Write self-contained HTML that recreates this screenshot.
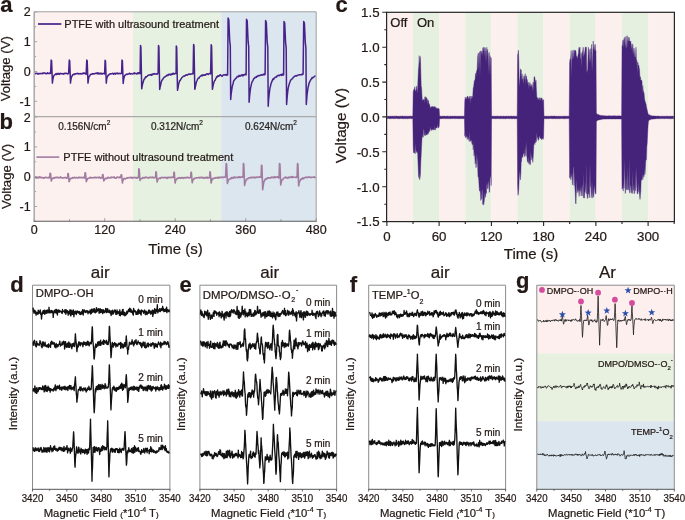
<!DOCTYPE html>
<html><head><meta charset="utf-8"><style>
html,body{margin:0;padding:0;background:#fff;width:685px;height:520px;overflow:hidden}
svg{display:block;will-change:transform}
text{font-family:"Liberation Sans",sans-serif;stroke:#231815;stroke-width:0.22px}
</style></head><body>
<svg width="685" height="520" viewBox="0 0 685 520">
<rect x="34.2" y="11.8" width="98.8" height="209.4" fill="#fcf1ee"/>
<rect x="133.0" y="11.8" width="88.2" height="209.4" fill="#e6f1e1"/>
<rect x="221.2" y="11.8" width="95" height="209.4" fill="#dce6ee"/>
<path d="M34.2,11.9h3M34.2,26.8h2M34.2,41.7h3M34.2,56.6h2M34.2,71.5h3M34.2,86.4h2M34.2,101.3h3M34.2,116.2h2M34.2,117.1h3M34.2,132h2M34.2,146.9h3M34.2,161.8h2M34.2,176.7h3M34.2,191.6h2M34.2,206.5h3M34.2,221.4h2M34.2,221.2v-3M69.5,221.2v-2M104.7,221.2v-3M139.9,221.2v-2M175.2,221.2v-3M210.4,221.2v-2M245.7,221.2v-3M280.9,221.2v-2M316.2,221.2v-3" stroke="#8f8f8f" stroke-width="0.8" fill="none"/>
<path d="M34.6,73.6 35.1,73.7 35.6,73.5 36.1,73.3 36.6,73.4 37.1,73.3 37.6,73.6 38.1,74.1 38.6,73.4 39.1,73.4 39.6,73.8 40.1,73.7 40.6,73.6 41.1,73.3 41.6,73.6 42.1,73.8 42.6,73.1 43.1,73.4 43.6,72.9 44.1,73.1 44.6,73 45.1,73.5 45.6,73.2 46.1,73.7 46.6,73.7 47.1,73.5 47.6,72.7 48.1,73.4 48.6,73.6 49.1,73.6 49.6,73.1 50.1,73.4 50.6,73.3 51.2,60.1 51.6,60.8 52.4,83.1 52.6,81 53.1,78.2 53.6,76.1 54.1,75.4 54.6,75 55.1,74.6 55.6,73.9 56.1,74.2 56.6,74.5 57.1,73.4 57.6,74.1 58.1,73.8 58.6,73.5 59.1,74.4 59.6,73.9 60.1,73.2 60.6,73.7 61.1,73.8 61.6,73.6 62.1,73.9 62.6,73.6 63.1,73.8 63.6,74.1 64.1,73.4 64.6,73.7 65.1,73.4 65.6,73.6 66.1,73.2 66.6,73.4 67.1,73.5 67.6,73.9 68.1,74 68.6,73.1 69.3,60.1 69.7,60.8 70.5,83.1 70.6,81.8 71.1,78.3 71.6,77 72.1,75.9 72.6,74.9 73.1,74.5 73.6,74.3 74.1,74.7 74.6,73.9 75.1,73.8 75.6,74 76.1,73.8 76.6,73.7 77.1,73.3 77.6,73.7 78.1,73.5 78.6,74.1 79.1,73.9 79.6,73.6 80.1,73.9 80.6,73.5 81.1,74 81.6,73.6 82.1,73.8 82.6,73.2 83.1,73.7 83.6,73 84.1,72.9 84.6,73.5 85.1,73.3 85.6,73.7 86.1,74.4 86.8,60.1 87.2,60.8 88,83.1 88.1,82.1 88.6,78.3 89.1,76.5 89.6,75.9 90.1,75.2 90.6,74.3 91.1,74.4 91.6,74.2 92.1,73.7 92.6,74 93.1,73.6 93.6,74.1 94.1,73.8 94.6,73.7 95.1,73.5 95.6,73.6 96.1,73 96.6,73.2 97.1,73.8 97.6,72.9 98.1,73.9 98.6,73 99.1,73.9 99.6,73.3 100.1,73.9 100.6,73.7 101.1,73.1 101.6,74 102.1,74.1 102.6,73.6 103.1,73.5 103.6,73.5 104.1,73.3 104.6,74 105.1,60.3 105.5,61 106.3,83.1 106.6,79.9 107.1,77 107.6,76.6 108.1,75.3 108.6,75.2 109.1,74.5 109.6,74.1 110.1,74 110.6,73.8 111.1,73.9 111.6,73.7 112.1,73.7 112.6,73.3 113.1,73.4 113.6,74.3 114.1,73.4 114.6,73.3 115.1,73.8 115.6,74.1 116.1,73.1 116.6,73.5 117.1,73.4 117.6,73 118.1,73.9 118.6,73.6 119.1,73.6 119.6,73.3 120.1,73.8 120.6,73.4 121.1,73.6 121.6,73.2 122,60.1 122.4,60.8 123.2,83.5 123.6,79.8 124.1,77.3 124.6,75.9 125.1,75.1 125.6,75.1 126.1,74.4 126.6,74.2 127.1,74.1 127.6,74.4 128.1,74.1 128.6,74 129.1,73.6 129.6,73.2 130.1,74 130.6,74 131.1,73.6 131.6,73.8 132.1,73.9 132.6,73.9 133.1,73.6 133.6,73.2 134.1,73.8 134.6,72.9 135.1,73.6 135.6,73.5 136.1,73.6 136.6,74 137.1,73.8 137.6,72.9 138.1,72.7 138.6,73.6 139.1,72.9 139.6,73.3 140.1,73.6 140.5,45.5 140.9,46.9 141.7,88.8 142.1,86.4 142.6,84 143.1,82.3 143.6,80.6 144.1,79.2 144.6,78.8 145.1,77.8 145.6,76.9 146.1,77.2 146.6,76.6 147.1,76.4 147.6,75.6 148.1,75.5 148.6,75.1 149.1,74.9 149.6,75.1 150.1,74.6 150.6,74.9 151.1,74.7 151.6,75.2 152.1,73.9 152.6,74.6 153.1,74.2 153.6,74.1 154.1,73.6 154.6,73.8 155.1,74.2 155.6,73.9 156.1,73.9 156.6,73.7 157.1,74.2 157.6,73.7 158.1,72.9 158.5,45.5 158.9,46.9 159.7,89.5 160.1,87.1 160.6,85.3 161.1,82.9 161.6,81 162.1,79.9 162.6,79.7 163.1,78.5 163.6,77.9 164.1,77.3 164.6,76.9 165.1,76.8 165.6,76.4 166.1,76 166.6,75.3 167.1,75.6 167.6,75 168.1,75.4 168.6,74.4 169.1,74.7 169.6,74.6 170.1,74 170.6,75 171.1,74.8 171.6,74 172.1,74.4 172.6,74.2 173.1,73.1 173.6,74 174.1,73.9 174.6,73.9 175.1,73.4 175.6,73.6 176.1,73.6 176.3,46 176.7,47.4 177.5,90.3 177.6,89.9 178.1,87.4 178.6,84.4 179.1,82.6 179.6,80.7 180.1,80.7 180.6,79.6 181.1,78.8 181.6,78.1 182.1,77.4 182.6,77 183.1,76.4 183.6,76.1 184.1,75.9 184.6,76.2 185.1,75.6 185.6,75.2 186.1,74.9 186.6,74.7 187.1,75.3 187.6,74.8 188.1,74.5 188.6,74.3 189.1,73.9 189.6,74.2 190.1,74.4 190.6,73.9 191.1,73.9 191.6,73.9 192.1,73.9 192.6,73.3 193.1,73.7 193.6,44.4 194,45.8 194.8,89.3 195.1,88 195.6,85.7 196.1,83.1 196.6,81.4 197.1,80.5 197.6,79.4 198.1,78.3 198.6,78.1 199.1,78.1 199.6,76.9 200.1,76.5 200.6,75.9 201.1,76 201.6,75.2 202.1,75.1 202.6,75.7 203.1,74.8 203.6,75.3 204.1,75.3 204.6,74.7 205.1,74.7 205.6,75.1 206.1,74.2 206.6,74 207.1,73.7 207.6,74.1 208.1,74.5 208.6,74.3 209.1,73.6 209.6,73.5 210.1,73.6 210.6,73.9 211.2,44.7 211.6,46.1 212.4,89.3 212.6,88.2 213.1,85.6 213.6,83.6 214.1,81.9 214.6,80.8 215.1,80.2 215.6,78.9 216.1,78.1 216.6,76.9 217.1,77.2 217.6,75.9 218.1,75.8 218.6,76.3 219.1,76 219.6,75.4 220.1,74.7 220.6,75 221.1,75.6 221.6,75.9 222.1,76.3 222.6,75.5 223.1,75.1 223.6,74.8 224.1,75.1 224.6,75 225.1,74.6 225.6,75 226.1,74.5 226.6,75.2 227.1,75.1 227.6,75.1 228.1,18.1 228.8,19.8 229.7,40.5 230.3,46.2 230.7,99.4 231.1,94.5 231.6,90.9 232.1,87.3 232.6,85 233.1,83.5 233.6,81.1 234.1,80.4 234.6,79.8 235.1,79.2 235.6,78.3 236.1,78.3 236.6,77.6 237.1,76.7 237.6,76.5 238.1,76.8 238.6,76.4 239.1,75.4 239.6,76.3 240.1,75.9 240.6,76 241.1,75.2 241.6,75.1 242.1,74.7 242.6,75.9 243.1,74.9 243.6,75.4 244.1,74.6 244.6,74.8 245.1,74.1 245.6,74.5 246.1,74.9 246.5,19.2 247.2,20.8 248.1,41.2 248.7,46.7 249.1,102.3 249.6,96.1 250.1,91.4 250.6,87.9 251.1,85.6 251.6,83.4 252.1,81.8 252.6,81.1 253.1,80.4 253.6,78.8 254.1,78.7 254.6,77.9 255.1,77.4 255.6,77.6 256.1,76.8 256.6,77.2 257.1,76.1 257.6,76.3 258.1,75.9 258.6,75.5 259.1,75.8 259.6,75.4 260.1,75.5 260.6,75.2 261.1,74.7 261.6,75 262.1,74.9 262.6,75.2 263.1,74.4 263.6,74.7 264.1,74 264.6,74.8 265.1,74.2 265.6,20.6 266.3,22.2 267.2,42 267.8,47.4 268.2,106.2 268.6,100 269.1,95 269.6,90.5 270.1,87.5 270.6,85.6 271.1,83.4 271.6,82.4 272.1,80.8 272.6,79.8 273.1,78.8 273.6,79.5 274.1,78.2 274.6,77.9 275.1,77.4 275.6,77.1 276.1,76.8 276.6,77.1 277.1,75.9 277.6,75.5 278.1,75.5 278.6,75.2 279.1,75.7 279.6,75.6 280.1,74.9 280.6,74.6 281.1,74.9 281.6,75.4 282.1,73.9 282.6,75 283.1,74.3 283.6,75 284,21.5 284.7,23.1 285.6,42.6 286.2,47.9 286.6,104.5 287.1,97.7 287.6,92.6 288.1,88.6 288.6,86.4 289.1,84.5 289.6,82.9 290.1,81.6 290.6,80.2 291.1,79.8 291.6,79.1 292.1,78.9 292.6,78.6 293.1,77.5 293.6,76.9 294.1,76.8 294.6,76.3 295.1,76 295.6,76.1 296.1,75.5 296.6,75.9 297.1,75.5 297.6,75.5 298.1,75.2 298.6,74.9 299.1,74.7 299.6,74.9 300.1,74.7 300.6,74.9 301.1,74.7 301.6,74.2 302.1,74.7 302.6,74.1 303.1,74.3 303.7,21.5 304.4,23.1 305.3,42.6 305.9,47.9 306.3,104.5 306.6,100.2 307.1,94.3 307.6,90.5 308.1,87.3 308.6,85.3 309.1,83 309.6,82.2 310.1,81 310.6,80 311.1,79.2 311.6,78.9 312.1,77.6 312.6,77.9 313.1,77.4 313.6,77.1 314.1,76.8 314.6,76.2 315.1,76.1 315.6,76.2" fill="none" stroke="#47228a" stroke-width="1.5" stroke-linejoin="round" />
<path d="M34.6,177.7 35.1,177.7 35.6,177.1 36.1,177.8 36.6,178 37.1,177.9 37.6,177.7 38.1,177.1 38.6,177.9 39.1,177.6 39.6,176.8 40.1,177.7 40.6,177.2 41.1,177.2 41.6,177.4 42.1,178 42.6,177.5 43.1,177.7 43.6,178.1 44.1,178.1 44.6,177.6 45.1,177.5 45.6,177.2 46.1,177.4 46.6,177.7 47.1,177.7 47.6,177.6 48.1,177.9 48.6,177.4 49.1,177.6 49.6,177.8 50.1,173.2 50.5,173.4 51.3,181 51.6,180 52.1,179.2 52.6,178.3 53.1,177.9 53.6,178.3 54.1,178 54.6,178 55.1,177.3 55.6,177.7 56.1,177.6 56.6,177.5 57.1,177 57.6,177.6 58.1,177.9 58.6,177.8 59.1,177.5 59.6,177.6 60.1,177.9 60.6,176.8 61.1,177.6 61.6,177.8 62.1,177.8 62.6,178.1 63.1,177.9 63.6,177.7 64.1,177.7 64.6,177.8 65.1,177.4 65.6,177.6 66.1,177.9 66.6,178.2 67.1,177.6 67.6,177.6 67.9,173.5 68.3,173.7 69.1,181.6 69.6,180.4 70.1,178.8 70.6,178.6 71.1,178.3 71.6,178.4 72.1,178.4 72.6,177.5 73.1,177.6 73.6,177.9 74.1,177.6 74.6,177.3 75.1,178 75.6,177.8 76.1,177.8 76.6,177.5 77.1,177.9 77.6,177.6 78.1,178 78.6,177.3 79.1,177.4 79.6,177.7 80.1,177.4 80.6,177.8 81.1,177.7 81.6,177.3 82.1,177.6 82.6,177.5 83.1,177.9 83.6,177.4 84.1,177.5 84.6,178 85.1,172.8 85.5,173 86.3,181.6 86.6,180.6 87.1,179.9 87.6,178.8 88.1,178.2 88.6,178.3 89.1,178.2 89.6,177.7 90.1,177.4 90.6,177.4 91.1,178 91.6,177.5 92.1,177.7 92.6,177.8 93.1,177.9 93.6,177.6 94.1,177.8 94.6,177.4 95.1,177.5 95.6,177.3 96.1,178 96.6,177.6 97.1,177.4 97.6,177.5 98.1,177.5 98.6,177.8 99.1,177.1 99.6,177.3 100.1,177.5 100.6,178.4 101.1,177.9 101.6,177.6 102.1,177.8 102.6,174.5 103,174.7 103.8,181 104.1,180.4 104.6,179.3 105.1,178.8 105.6,178.2 106.1,178.7 106.6,178.5 107.1,178.1 107.6,178.1 108.1,177.2 108.6,177.9 109.1,177.7 109.6,177.8 110.1,177.9 110.6,177.6 111.1,177.1 111.6,177.7 112.1,177.4 112.6,177.5 113.1,177.4 113.6,177.5 114.1,176.9 114.6,178 115.1,177.7 115.6,177.9 116.1,178.2 116.6,177.6 117.1,177.1 117.6,177.3 118.1,177.2 118.6,177.5 119.1,177.6 119.6,177 120.1,177.7 120.6,177.1 121.2,174.7 121.6,174.8 122.4,183 122.6,181.9 123.1,180.1 123.6,179.2 124.1,178.4 124.6,178.5 125.1,178.9 125.6,178.7 126.1,178.4 126.6,178.1 127.1,177.7 127.6,178.2 128.1,177.7 128.6,177.7 129.1,177.6 129.6,177.7 130.1,177.5 130.6,177.6 131.1,177.3 131.6,177.5 132.1,178.3 132.6,177.6 133.1,177.5 133.6,177.8 134.1,177.8 134.6,177.3 135.1,177.5 135.6,177.9 136.1,177.7 136.6,177.6 137.1,178.1 137.6,177.4 138.1,177.6 138.6,177.4 138.8,168.9 139.2,169.3 140,180.5 140.1,180 140.6,179 141.1,178.8 141.6,178.5 142.1,178.5 142.6,177.5 143.1,178.1 143.6,177.8 144.1,177.6 144.6,177.9 145.1,177.4 145.6,177.1 146.1,177.6 146.6,177.2 147.1,177.4 147.6,177.7 148.1,177.7 148.6,178.1 149.1,177.6 149.6,177.2 150.1,177.4 150.6,177.3 151.1,177.2 151.6,177.7 152.1,177.4 152.6,177 153.1,177.8 153.6,177.6 154.1,177.7 154.6,177.6 155.1,177.8 155.6,177.6 155.9,171.8 156.3,172.1 157.1,182 157.6,180.3 158.1,178.9 158.6,178.7 159.1,178.4 159.6,178.3 160.1,177.7 160.6,178.5 161.1,177.9 161.6,177.5 162.1,177.3 162.6,177.7 163.1,177.7 163.6,177.5 164.1,177.7 164.6,177.5 165.1,177.8 165.6,177.4 166.1,177.6 166.6,177.9 167.1,178.4 167.6,177.3 168.1,177.5 168.6,177.4 169.1,177.8 169.6,177.3 170.1,177.5 170.6,177.6 171.1,177.3 171.6,177.3 172.1,177.5 172.6,177 173.1,177.2 173.6,177.5 173.9,172.2 174.3,172.5 175.1,183 175.6,180.7 176.1,179.9 176.6,179.2 177.1,178.6 177.6,178.1 178.1,178.4 178.6,177.9 179.1,177.6 179.6,177.6 180.1,178.3 180.6,177.8 181.1,178.1 181.6,177.6 182.1,178 182.6,177.5 183.1,177.6 183.6,178.4 184.1,177.9 184.6,177.5 185.1,177.6 185.6,177.7 186.1,178 186.6,177.5 187.1,177.1 187.6,177.5 188.1,177.6 188.6,177.6 189.1,178 189.6,177.7 190.1,177.8 190.6,177.3 191,172.2 191.4,172.5 192.2,182.7 192.6,181 193.1,179.8 193.6,179.6 194.1,178.4 194.6,178.4 195.1,178.3 195.6,178.3 196.1,177.8 196.6,178 197.1,177.7 197.6,177.8 198.1,177.7 198.6,177.4 199.1,177.7 199.6,177.9 200.1,177.4 200.6,177.6 201.1,177.8 201.6,177.3 202.1,177.7 202.6,177.3 203.1,178 203.6,178.3 204.1,178.2 204.6,177.5 205.1,177.8 205.6,177.6 206.1,177.6 206.6,178.1 207.1,177.2 207.6,177.9 208.1,177.6 208.6,178 209.1,177.7 209.6,177.4 209.9,171.8 210.3,172.1 211.1,183 211.6,181 212.1,179.5 212.6,178.4 213.1,178.9 213.6,178.6 214.1,178.2 214.6,178.1 215.1,178.3 215.6,177.7 216.1,177.6 216.6,177.7 217.1,178.1 217.6,177.3 218.1,178 218.6,177.5 219.1,177.3 219.6,178 220.1,177.6 220.6,177.2 221.1,177.1 221.6,177.5 222.1,177.6 222.6,177.1 223.1,177.3 223.6,177.4 224.1,177 224.6,177.3 225.1,177.2 225.6,177 226.2,163.5 226.6,164.2 227.4,183.5 227.6,182.4 228.1,180.7 228.6,180.2 229.1,179.2 229.6,179 230.1,178.8 230.6,178.3 231.1,178.7 231.6,177.6 232.1,178 232.6,177.6 233.1,178.1 233.6,178 234.1,176.9 234.6,177.1 235.1,177.6 235.6,177.6 236.1,177.5 236.6,177.3 237.1,177.4 237.6,177.5 238.1,177.2 238.6,177.6 239.1,176.6 239.6,177.4 240.1,176.9 240.6,177.5 241.1,177.2 241.6,177 242.1,177.3 242.6,176.9 243.1,176.9 243.4,163.5 243.8,164.2 244.6,185.4 245.1,183 245.6,181 246.1,180.4 246.6,179.4 247.1,178.9 247.6,178.7 248.1,178.6 248.6,178 249.1,177.9 249.6,177.8 250.1,177.7 250.6,177.4 251.1,177.9 251.6,177.4 252.1,177.6 252.6,177.2 253.1,177.5 253.6,177.5 254.1,177.2 254.6,177.9 255.1,177.4 255.6,177.8 256.1,177.5 256.6,177.1 257.1,177.1 257.6,177.4 258.1,177.2 258.6,177.2 259.1,177.1 259.6,176.7 260.1,177.1 260.6,176.5 261.1,177.3 261.5,165.2 261.9,165.8 262.7,189.7 263.1,186.3 263.6,183.1 264.1,181.3 264.6,180.4 265.1,179.3 265.6,179.1 266.1,179.4 266.6,178.3 267.1,178.6 267.6,177.8 268.1,178.1 268.6,177.8 269.1,177.8 269.6,177.9 270.1,178.1 270.6,177.6 271.1,177.5 271.6,177.1 272.1,177.6 272.6,177.3 273.1,177.6 273.6,177.3 274.1,177.8 274.6,176.7 275.1,177.2 275.6,177.5 276.1,177.1 276.6,177 277.1,177.2 277.6,176.8 278.1,177.3 278.6,178 279.1,177.6 279.5,163.5 279.9,164.2 280.7,184.9 281.1,183.1 281.6,180.8 282.1,179.8 282.6,179.6 283.1,179.1 283.6,178.4 284.1,178 284.6,177.6 285.1,177.7 285.6,177.1 286.1,177.9 286.6,177.4 287.1,177.7 287.6,178.1 288.1,177.8 288.6,177.1 289.1,177.6 289.6,177.7 290.1,177.1 290.6,177 291.1,177.3 291.6,176.8 292.1,177.7 292.6,176.5 293.1,176.9 293.6,177.2 294.1,177.2 294.6,177.3 295.1,177.3 295.6,177.2 296.1,177.6 296.6,176.6 297.1,177.2 297.5,163.5 297.9,164.2 298.7,186 299.1,183.3 299.6,181.5 300.1,180.7 300.6,179.8 301.1,178.9 301.6,179.3 302.1,179.1 302.6,177.8 303.1,178.1 303.6,178.7 304.1,178 304.6,177.8 305.1,177.5 305.6,177.4 306.1,177.4 306.6,177.3 307.1,177.6 307.6,177.2 308.1,177.2 308.6,177 309.1,177.3 309.6,177 310.1,177.2 310.6,177.6 311.1,177.4 311.6,177.4 312.1,177.3 312.6,177.2 313.1,177.2 313.6,177.1 314.1,177.4 314.6,176.9 315.1,177.6 315.6,177.2" fill="none" stroke="#a27ba0" stroke-width="1.6" stroke-linejoin="round" />
<path d="M34.2,11.8H316.2V221.2" stroke="#a0a0a0" stroke-width="1" fill="none"/>
<path d="M34.2,11.8V221.2" stroke="#a8a8a8" stroke-width="1.5" fill="none"/>
<path d="M34.2,116.7H316.2" stroke="#aaaaaa" stroke-width="1.2" fill="none"/>
<path d="M33.7,221.2H316.7" stroke="#5a5a5a" stroke-width="1.1" fill="none"/>
<path d="M38,24H61.3" stroke="#47228a" stroke-width="1.7"/>
<text x="64.3" y="27.6" font-size="11" text-anchor="start" font-weight="normal" fill="#231815" >PTFE with ultrasound treatment</text>
<path d="M36.4,157.1H59.3" stroke="#a27ba0" stroke-width="1.6"/>
<text x="63.3" y="160.8" font-size="11" text-anchor="start" font-weight="normal" fill="#231815" >PTFE without ultrasound treatment</text>
<text x="84.3" y="129.9" font-size="10" text-anchor="middle" fill="#2a2a2a">0.156N/cm<tspan font-size="6.5" dy="-4.5">2</tspan></text>
<text x="177" y="129.9" font-size="10" text-anchor="middle" fill="#2a2a2a">0.312N/cm<tspan font-size="6.5" dy="-4.5">2</tspan></text>
<text x="271" y="129.9" font-size="10" text-anchor="middle" fill="#2a2a2a">0.624N/cm<tspan font-size="6.5" dy="-4.5">2</tspan></text>
<text x="30.6" y="16.4" font-size="12.5" text-anchor="end" font-weight="normal" fill="#231815" >2</text>
<text x="30.6" y="46.2" font-size="12.5" text-anchor="end" font-weight="normal" fill="#231815" >1</text>
<text x="30.6" y="76" font-size="12.5" text-anchor="end" font-weight="normal" fill="#231815" >0</text>
<text x="30.6" y="105.8" font-size="12.5" text-anchor="end" font-weight="normal" fill="#231815" >-1</text>
<text x="30.6" y="121.6" font-size="12.5" text-anchor="end" font-weight="normal" fill="#231815" >2</text>
<text x="30.6" y="151.4" font-size="12.5" text-anchor="end" font-weight="normal" fill="#231815" >1</text>
<text x="30.6" y="181.2" font-size="12.5" text-anchor="end" font-weight="normal" fill="#231815" >0</text>
<text x="30.6" y="211" font-size="12.5" text-anchor="end" font-weight="normal" fill="#231815" >-1</text>
<text x="34.2" y="234.4" font-size="12.5" text-anchor="middle" font-weight="normal" fill="#231815" >0</text>
<text x="104.7" y="234.4" font-size="12.5" text-anchor="middle" font-weight="normal" fill="#231815" >120</text>
<text x="175.2" y="234.4" font-size="12.5" text-anchor="middle" font-weight="normal" fill="#231815" >240</text>
<text x="245.7" y="234.4" font-size="12.5" text-anchor="middle" font-weight="normal" fill="#231815" >360</text>
<text x="316.2" y="234.4" font-size="12.5" text-anchor="middle" font-weight="normal" fill="#231815" >480</text>
<text x="175.5" y="254.2" font-size="15" text-anchor="middle" font-weight="normal" fill="#231815" >Time (s)</text>
<text x="10.5" y="68.7" font-size="13.2" text-anchor="middle" font-weight="normal" fill="#231815" transform="rotate(-90 10.5 68.7)">Voltage (V)</text>
<text x="10.7" y="176.5" font-size="13.2" text-anchor="middle" font-weight="normal" fill="#231815" transform="rotate(-90 10.7 176.5)">Voltage (V)</text>
<text x="0.2" y="12.1" font-size="22" text-anchor="start" font-weight="bold" fill="#231815" >a</text>
<text x="-0.6" y="129.3" font-size="22" text-anchor="start" font-weight="bold" fill="#231815" >b</text>
<rect x="386.9" y="12.3" width="26.1" height="209.3" fill="#fcf0ee"/>
<rect x="413" y="12.3" width="26.1" height="209.3" fill="#e6f0e0"/>
<rect x="439.1" y="12.3" width="26.1" height="209.3" fill="#fcf0ee"/>
<rect x="465.3" y="12.3" width="26.1" height="209.3" fill="#e6f0e0"/>
<rect x="491.4" y="12.3" width="26.1" height="209.3" fill="#fcf0ee"/>
<rect x="517.5" y="12.3" width="26.1" height="209.3" fill="#e6f0e0"/>
<rect x="543.6" y="12.3" width="26.1" height="209.3" fill="#fcf0ee"/>
<rect x="569.7" y="12.3" width="26.1" height="209.3" fill="#e6f0e0"/>
<rect x="595.9" y="12.3" width="26.1" height="209.3" fill="#fcf0ee"/>
<rect x="622" y="12.3" width="26.1" height="209.3" fill="#e6f0e0"/>
<rect x="648.1" y="12.3" width="26.1" height="209.3" fill="#fcf0ee"/>
<path d="M387.2,116.2 387.6,116.3 388,116.3 388.4,116.3 388.8,116.2 389.2,116.3 389.6,116.3 390,116.3 390.4,116.3 390.8,116.1 391.2,116.2 391.6,116.3 392,116.1 392.4,116.2 392.8,116.1 393.2,116.2 393.6,116.2 394,116.2 394.4,116.2 394.8,116.2 395.2,116.2 395.6,116.2 396,116.2 396.4,116.1 396.8,116.1 397.2,116.3 397.6,116.3 398,116.1 398.4,116.2 398.8,116.2 399.2,116.3 399.6,116.3 400,116.2 400.4,116.1 400.8,116.2 401.2,116.2 401.6,116.2 402,116.3 402.4,116.1 402.8,116.1 403.2,116.3 403.6,116.2 404,116.2 404.4,116.3 404.8,116.3 405.2,116.1 405.6,116.2 406,116.2 406.4,116.2 406.8,116.3 407.2,116.2 407.6,116.3 408,116.3 408.4,116.3 408.8,116.2 409.2,116.1 409.6,116.2 410,116.2 410.4,116.1 410.8,116.2 411.2,116.2 411.6,116.2 412,116.3 412.4,116.1 412.8,116.2 413.2,91.8 413.6,90.4 414,89 414.4,89.2 414.8,86.8 415.2,91.6 415.6,90.6 416,90.8 416.4,86.1 416.8,88.6 417.2,93.6 417.6,88.4 418,79 418.4,70 418.8,65.7 419.2,55.6 419.6,63.1 420,63.3 420.4,56.5 420.8,70.8 421.2,85.8 421.6,88.1 422,96.1 422.4,100.3 422.8,100.6 423.2,100.1 423.6,99.8 424,99.1 424.4,103.3 424.8,97 425.2,96.5 425.6,99.7 426,97.3 426.4,97.7 426.8,98.1 427.2,105.1 427.6,99.3 428,101.9 428.4,100.2 428.8,103.1 429.2,103.7 429.6,104.4 430,106.3 430.4,107.7 430.8,107.5 431.2,107.3 431.6,106.4 432,107.2 432.4,106.7 432.8,106.2 433.2,107 433.6,106.7 434,107.6 434.4,106.7 434.8,106.5 435.2,106.7 435.6,107.2 436,108.4 436.4,108.6 436.8,107.7 437.2,108.7 437.6,108.8 438,108.4 438.4,108.9 438.8,108.3 439.2,109.2 439.6,116.3 440,116.2 440.4,116.1 440.8,116.2 441.2,116.2 441.6,116.2 442,116.3 442.4,116.3 442.8,116.1 443.2,116.1 443.6,116.3 444,116.2 444.4,116.1 444.8,116.1 445.2,116.3 445.6,116.2 446,116.2 446.4,116.2 446.8,116.3 447.2,116.1 447.6,116.1 448,116.2 448.4,116.2 448.8,116.3 449.2,116.2 449.6,116.3 450,116.3 450.4,116.1 450.8,116.2 451.2,116.3 451.6,116.3 452,116.1 452.4,116.2 452.8,116.1 453.2,116.2 453.6,116.3 454,116.1 454.4,116.2 454.8,116.1 455.2,116.2 455.6,116.2 456,116.1 456.4,116.3 456.8,116.3 457.2,116.3 457.6,116.3 458,116.2 458.4,116.1 458.8,116.3 459.2,116.3 459.6,116.3 460,116.2 460.4,116.2 460.8,116.2 461.2,116.3 461.6,116.2 462,116.3 462.4,116.2 462.8,116.1 463.2,116.3 463.6,116.3 464,116.3 464.4,116.3 464.8,100.8 465.2,97.1 465.6,99.1 466,99.1 466.4,99 466.8,97 467.2,97.2 467.6,96 468,96.6 468.4,97.7 468.8,99.4 469.2,98.6 469.6,97 470,96 470.4,103.8 470.8,97.2 471.2,96 471.6,99.2 472,98.3 472.4,96.8 472.8,95.6 473.2,87.6 473.6,87.3 474,83.2 474.4,80.5 474.8,80.6 475.2,78.3 475.6,73.3 476,77.1 476.4,71.4 476.8,71 477.2,68.6 477.6,57.5 478,54.2 478.4,53 478.8,70.4 479.2,59.1 479.6,51.7 480,76.7 480.4,52.4 480.8,50.8 481.2,52.5 481.6,54.4 482,50.9 482.4,56.4 482.8,48.4 483.2,47.4 483.6,52.3 484,47.2 484.4,50.3 484.8,56.4 485.2,47.6 485.6,61.5 486,50.7 486.4,62.9 486.8,47.3 487.2,52.4 487.6,49.5 488,56.8 488.4,74.9 488.8,53.8 489.2,52.4 489.6,74.9 490,55.6 490.4,77.1 490.8,57.4 491.2,57.9 491.6,116.2 492,116.1 492.4,116.3 492.8,116.1 493.2,116.2 493.6,116.2 494,116.3 494.4,116.3 494.8,116.1 495.2,116.2 495.6,116.2 496,116.3 496.4,116.2 496.8,116.2 497.2,116.1 497.6,116.1 498,116.3 498.4,116.3 498.8,116.3 499.2,116.3 499.6,116.2 500,116.3 500.4,116.1 500.8,116.3 501.2,116.3 501.6,116.2 502,116.3 502.4,116.2 502.8,116.3 503.2,116.2 503.6,116.1 504,116.2 504.4,116.3 504.8,116.3 505.2,116.3 505.6,116.3 506,116.2 506.4,116.2 506.8,116.1 507.2,116.2 507.6,116.3 508,116.2 508.4,116.1 508.8,116.2 509.2,116.2 509.6,116.3 510,116.3 510.4,116.2 510.8,116.1 511.2,116.2 511.6,116.1 512,116.3 512.4,116.2 512.8,116.3 513.2,116.2 513.6,116.2 514,116.1 514.4,116.2 514.8,116.2 515.2,116.3 515.6,116.3 516,116.2 516.4,116.2 516.8,116.2 517.2,116.2 517.6,54.7 518,53.5 518.4,50.1 518.8,60.6 519.2,86.7 519.6,82.8 520,77.1 520.4,68.8 520.8,71.6 521.2,69.8 521.6,81 522,73.7 522.4,79.7 522.8,78.9 523.2,84.3 523.6,78.8 524,75.7 524.4,80.1 524.8,76.7 525.2,73.7 525.6,84.9 526,76.8 526.4,75.8 526.8,79.2 527.2,79.6 527.6,82.3 528,83.7 528.4,89.4 528.8,82.1 529.2,86.6 529.6,85.8 530,82.6 530.4,86.5 530.8,85.9 531.2,84.4 531.6,85.4 532,87 532.4,91.1 532.8,84.8 533.2,82.2 533.6,92.1 534,77.3 534.4,76.6 534.8,77.4 535.2,80.4 535.6,83.5 536,80.2 536.4,89.4 536.8,96.7 537.2,99 537.6,97.5 538,100 538.4,99.5 538.8,98.1 539.2,97.6 539.6,98.5 540,100.7 540.4,99.4 540.8,97.8 541.2,97.8 541.6,98.4 542,98.1 542.4,100.2 542.8,101.1 543.2,100.1 543.6,99.5 544,116.2 544.4,116.1 544.8,116.3 545.2,116.2 545.6,116.2 546,116.1 546.4,116.2 546.8,116.2 547.2,116.2 547.6,116.2 548,116.2 548.4,116.2 548.8,116.2 549.2,116.2 549.6,116.3 550,116.2 550.4,116.1 550.8,116.2 551.2,116.2 551.6,116.1 552,116.2 552.4,116.2 552.8,116.1 553.2,116.2 553.6,116.1 554,116.1 554.4,116.1 554.8,116.1 555.2,116.3 555.6,116.3 556,116.2 556.4,116.1 556.8,116.3 557.2,116.3 557.6,116.3 558,116.2 558.4,116.2 558.8,116.2 559.2,116.3 559.6,116.2 560,116.2 560.4,116.3 560.8,116.2 561.2,116.3 561.6,116.3 562,116.3 562.4,116.3 562.8,116.2 563.2,116.3 563.6,116.1 564,116.2 564.4,116.3 564.8,116.2 565.2,116.2 565.6,116.1 566,116.3 566.4,116.2 566.8,116.3 567.2,116.2 567.6,116.3 568,116.1 568.4,116.2 568.8,116.2 569.2,116.3 569.6,62.9 570,59.3 570.4,60.2 570.8,56.7 571.2,50.5 571.6,77.2 572,59.6 572.4,58.1 572.8,50.3 573.2,58.8 573.6,55.8 574,49.8 574.4,53.4 574.8,50.4 575.2,51 575.6,50.3 576,51.6 576.4,58.2 576.8,55.9 577.2,57.2 577.6,58.9 578,55 578.4,53.6 578.8,48.7 579.2,47.2 579.6,50.1 580,47.2 580.4,58.6 580.8,59 581.2,52.9 581.6,67.6 582,56.4 582.4,51.5 582.8,50.7 583.2,47.2 583.6,57.4 584,55.5 584.4,53.5 584.8,51.5 585.2,47.2 585.6,47.2 586,47.2 586.4,47.2 586.8,72.9 587.2,70.2 587.6,73.5 588,57.9 588.4,47.2 588.8,56.2 589.2,49.2 589.6,58.1 590,62.9 590.4,58.3 590.8,48.5 591.2,53.6 591.6,44.4 592,72 592.4,62.7 592.8,52 593.2,41 593.6,48.8 594,48.9 594.4,51.3 594.8,45.2 595.2,44.2 595.6,51.9 596,50.6 596.4,113.7 596.8,113.6 597.2,114.3 597.6,114.3 598,114.6 598.4,114.6 598.8,114.7 599.2,115.1 599.6,115 600,115.4 600.4,115.3 600.8,115.4 601.2,115.5 601.6,115.6 602,115.6 602.4,115.6 602.8,115.7 603.2,115.5 603.6,115.7 604,115.7 604.4,115.8 604.8,115.8 605.2,115.9 605.6,115.8 606,115.9 606.4,115.9 606.8,115.7 607.2,115.9 607.6,115.9 608,115.7 608.4,115.8 608.8,115.8 609.2,115.9 609.6,115.8 610,115.8 610.4,115.9 610.8,115.8 611.2,115.8 611.6,115.9 612,116 612.4,115.8 612.8,115.9 613.2,115.8 613.6,115.9 614,115.8 614.4,115.8 614.8,115.8 615.2,115.8 615.6,116 616,115.8 616.4,115.9 616.8,116 617.2,115.9 617.6,115.8 618,115.9 618.4,115.8 618.8,115.9 619.2,115.8 619.6,115.8 620,115.9 620.4,115.9 620.8,115.9 621.2,115.9 621.6,115.9 622,45.7 622.4,46.3 622.8,40.6 623.2,40.1 623.6,48.4 624,38.5 624.4,45.8 624.8,37.1 625.2,44.7 625.6,48.3 626,36.3 626.4,48 626.8,47.6 627.2,35.7 627.6,47.6 628,40.4 628.4,41.4 628.8,37 629.2,37.8 629.6,42.1 630,40.8 630.4,42.6 630.8,41.2 631.2,47.2 631.6,49.8 632,43.7 632.4,54.4 632.8,44.4 633.2,50.5 633.6,54.8 634,48.1 634.4,52.7 634.8,56.4 635.2,57.5 635.6,56.5 636,47.2 636.4,61.1 636.8,59.9 637.2,73.7 637.6,61.9 638,62.8 638.4,66.1 638.8,65.3 639.2,67.7 639.6,70.6 640,78.2 640.4,76.7 640.8,80 641.2,80.2 641.6,80.2 642,81.1 642.4,94 642.8,85.5 643.2,90.6 643.6,92 644,92.4 644.4,97.1 644.8,100.5 645.2,101.3 645.6,103.3 646,103.5 646.4,106.7 646.8,108.2 647.2,109.9 647.6,112.1 648,113.3 648.4,115.2 648.8,114.4 649.2,114.6 649.6,114.9 650,115.2 650.4,115.4 650.8,115.4 651.2,115.6 651.6,115.8 652,115.9 652.4,115.9 652.8,116 653.2,115.8 653.6,116 654,116.1 654.4,116.1 654.8,116.1 655.2,116.1 655.6,116.1 656,116.1 656.4,116.1 656.8,116.2 657.2,116.1 657.6,116.2 658,116.1 658.4,116.1 658.8,116.1 659.2,116.3 659.6,116.2 660,116.2 660.4,116.3 660.8,116.3 661.2,116.2 661.6,116.3 662,116.3 662.4,116.2 662.8,116.2 663.2,116.2 663.6,116.3 664,116.2 664.4,116.3 664.8,116.2 665.2,116.2 665.6,116.2 666,116.2 666.4,116.2 666.8,116.2 667.2,116.1 667.6,116.3 668,116.2 668.4,116.3 668.8,116.3 669.2,116.3 669.6,116.2 670,116.2 670.4,116.2 670.8,116.1 671.2,116.3 671.6,116.2 672,116.2 672.4,116.1 672.8,116.2 673.2,116.3 673.6,116.2 673.6,118.7 673.2,118.6 672.8,118.6 672.4,118.7 672,118.8 671.6,118.7 671.2,118.7 670.8,118.7 670.4,118.7 670,118.6 669.6,118.8 669.2,118.6 668.8,118.8 668.4,118.6 668,118.7 667.6,118.6 667.2,118.6 666.8,118.7 666.4,118.6 666,118.6 665.6,118.6 665.2,118.6 664.8,118.7 664.4,118.7 664,118.6 663.6,118.7 663.2,118.6 662.8,118.7 662.4,118.6 662,118.6 661.6,118.6 661.2,118.6 660.8,118.6 660.4,118.8 660,118.7 659.6,118.6 659.2,118.7 658.8,118.8 658.4,118.6 658,118.7 657.6,118.7 657.2,118.7 656.8,118.6 656.4,118.8 656,118.8 655.6,118.8 655.2,118.9 654.8,118.9 654.4,118.9 654,119 653.6,119 653.2,118.9 652.8,118.9 652.4,119.2 652,119.2 651.6,119.1 651.2,119.3 650.8,119.5 650.4,119.6 650,119.8 649.6,119.9 649.2,120.3 648.8,120.2 648.4,122 648,126.7 647.6,134.4 647.2,143.3 646.8,146.9 646.4,159.8 646,159.1 645.6,163.2 645.2,172.1 644.8,174.7 644.4,167 644,176.7 643.6,173.7 643.2,177.1 642.8,179.7 642.4,173.3 642,178.8 641.6,180.4 641.2,179.6 640.8,191.3 640.4,195.3 640,199.5 639.6,195.1 639.2,192.8 638.8,182.8 638.4,191.2 638,192.2 637.6,194 637.2,193.8 636.8,186.2 636.4,166.3 636,186.2 635.6,190.9 635.2,169.3 634.8,192.4 634.4,193.7 634,183.9 633.6,190.2 633.2,184.2 632.8,193.7 632.4,170.6 632,192.6 631.6,185.3 631.2,193.4 630.8,186.8 630.4,184 630,191.6 629.6,192.9 629.2,158.9 628.8,190 628.4,183.5 628,190.2 627.6,189.1 627.2,166.7 626.8,188.3 626.4,189.8 626,175.5 625.6,191.6 625.2,193.5 624.8,159.7 624.4,174.7 624,188.3 623.6,181.8 623.2,191.1 622.8,187.3 622.4,188.1 622,189.2 621.6,119 621.2,119.1 620.8,119.1 620.4,119 620,119 619.6,119.1 619.2,118.9 618.8,118.9 618.4,118.9 618,119.1 617.6,119 617.2,119 616.8,119 616.4,118.9 616,119 615.6,119.1 615.2,119.1 614.8,118.9 614.4,118.9 614,119 613.6,118.9 613.2,119.1 612.8,119.1 612.4,119 612,119 611.6,118.9 611.2,119.1 610.8,119.1 610.4,118.9 610,118.9 609.6,118.9 609.2,119.1 608.8,119 608.4,119 608,119 607.6,119 607.2,119.1 606.8,119 606.4,118.9 606,119.1 605.6,119.2 605.2,119 604.8,119 604.4,119.1 604,119.3 603.6,119.1 603.2,119.1 602.8,119.1 602.4,119.3 602,119.3 601.6,119.4 601.2,119.5 600.8,119.7 600.4,119.6 600,119.7 599.6,119.9 599.2,119.7 598.8,119.9 598.4,120 598,120.2 597.6,120.3 597.2,120.7 596.8,121.2 596.4,121.1 596,193.7 595.6,194 595.2,192.5 594.8,184.8 594.4,188 594,193.5 593.6,196.9 593.2,187.7 592.8,198.1 592.4,192.1 592,181.3 591.6,194.5 591.2,197.8 590.8,187.1 590.4,186 590,163.9 589.6,192.6 589.2,197.9 588.8,191.7 588.4,194.1 588,194.1 587.6,198.4 587.2,198.3 586.8,163.1 586.4,193.6 586,193.4 585.6,180.9 585.2,191 584.8,192.2 584.4,198.1 584,198.1 583.6,198 583.2,172.5 582.8,196.3 582.4,184.5 582,186.3 581.6,191.9 581.2,196 580.8,192.6 580.4,186 580,191.3 579.6,188.5 579.2,196.4 578.8,192.4 578.4,187.6 578,191.2 577.6,188.6 577.2,192.8 576.8,178.8 576.4,188.9 576,204 575.6,202.8 575.2,192.7 574.8,186.2 574.4,171 574,185.7 573.6,167.3 573.2,167.3 572.8,177.5 572.4,184.9 572,177.6 571.6,176.8 571.2,174.1 570.8,179.8 570.4,172.6 570,178.3 569.6,177.5 569.2,118.7 568.8,118.6 568.4,118.6 568,118.6 567.6,118.6 567.2,118.6 566.8,118.6 566.4,118.7 566,118.6 565.6,118.6 565.2,118.7 564.8,118.7 564.4,118.7 564,118.6 563.6,118.7 563.2,118.7 562.8,118.6 562.4,118.6 562,118.6 561.6,118.6 561.2,118.6 560.8,118.7 560.4,118.6 560,118.7 559.6,118.7 559.2,118.6 558.8,118.7 558.4,118.7 558,118.7 557.6,118.7 557.2,118.6 556.8,118.7 556.4,118.6 556,118.7 555.6,118.7 555.2,118.7 554.8,118.8 554.4,118.6 554,118.7 553.6,118.6 553.2,118.7 552.8,118.7 552.4,118.7 552,118.7 551.6,118.6 551.2,118.7 550.8,118.6 550.4,118.6 550,118.6 549.6,118.6 549.2,118.7 548.8,118.7 548.4,118.7 548,118.7 547.6,118.6 547.2,118.6 546.8,118.8 546.4,118.7 546,118.7 545.6,118.6 545.2,118.8 544.8,118.7 544.4,118.6 544,118.7 543.6,137.3 543.2,139.4 542.8,138.9 542.4,138.5 542,137.4 541.6,139.7 541.2,138.9 540.8,137.7 540.4,138.6 540,137.9 539.6,135.5 539.2,136.7 538.8,138.9 538.4,140.4 538,139.9 537.6,137.3 537.2,137.8 536.8,132.5 536.4,141.5 536,141.9 535.6,142.9 535.2,139.6 534.8,144.6 534.4,143 534,142.8 533.6,149.2 533.2,157.6 532.8,162.4 532.4,158.2 532,157.3 531.6,154.1 531.2,160.1 530.8,150.7 530.4,164.4 530,164.4 529.6,159 529.2,164.4 528.8,156.7 528.4,163.2 528,160 527.6,162.2 527.2,159.9 526.8,155.1 526.4,140.1 526,156.4 525.6,153.5 525.2,145.2 524.8,152.4 524.4,156.8 524,152.5 523.6,153.7 523.2,154 522.8,157.3 522.4,157.4 522,154.8 521.6,161.2 521.2,162.3 520.8,174.9 520.4,179.9 520,171.1 519.6,173.8 519.2,178.2 518.8,188.2 518.4,193.3 518,195.3 517.6,185.7 517.2,118.6 516.8,118.7 516.4,118.7 516,118.7 515.6,118.7 515.2,118.6 514.8,118.8 514.4,118.8 514,118.7 513.6,118.6 513.2,118.6 512.8,118.7 512.4,118.7 512,118.7 511.6,118.7 511.2,118.7 510.8,118.6 510.4,118.6 510,118.6 509.6,118.8 509.2,118.7 508.8,118.6 508.4,118.6 508,118.6 507.6,118.6 507.2,118.6 506.8,118.7 506.4,118.6 506,118.7 505.6,118.8 505.2,118.7 504.8,118.6 504.4,118.8 504,118.7 503.6,118.8 503.2,118.6 502.8,118.6 502.4,118.7 502,118.7 501.6,118.7 501.2,118.6 500.8,118.7 500.4,118.6 500,118.6 499.6,118.7 499.2,118.7 498.8,118.6 498.4,118.6 498,118.6 497.6,118.6 497.2,118.7 496.8,118.6 496.4,118.7 496,118.7 495.6,118.7 495.2,118.8 494.8,118.6 494.4,118.6 494,118.7 493.6,118.6 493.2,118.7 492.8,118.6 492.4,118.7 492,118.7 491.6,118.6 491.2,185.7 490.8,176.8 490.4,176.5 490,178.3 489.6,191.7 489.2,192.4 488.8,181.5 488.4,182.4 488,189 487.6,188.2 487.2,182.9 486.8,184.7 486.4,193.5 486,191.3 485.6,195.6 485.2,197.5 484.8,192.3 484.4,199.3 484,203.2 483.6,205.1 483.2,201.9 482.8,204.6 482.4,189.3 482,190.5 481.6,198.9 481.2,198.8 480.8,200.5 480.4,192.9 480,189.2 479.6,191.2 479.2,188.1 478.8,180.8 478.4,176.6 478,177.1 477.6,164.5 477.2,159.2 476.8,154.1 476.4,164.9 476,167.8 475.6,158.9 475.2,163.9 474.8,157.4 474.4,151.5 474,155.8 473.6,140 473.2,149.9 472.8,142.7 472.4,144.7 472,144.3 471.6,141.4 471.2,140.1 470.8,139.9 470.4,140.9 470,141.7 469.6,130.9 469.2,141.3 468.8,137.1 468.4,139.5 468,136.7 467.6,136.8 467.2,139.5 466.8,135.6 466.4,136.9 466,137.2 465.6,137.9 465.2,133.2 464.8,136.3 464.4,118.6 464,118.6 463.6,118.6 463.2,118.7 462.8,118.8 462.4,118.6 462,118.7 461.6,118.6 461.2,118.6 460.8,118.6 460.4,118.7 460,118.7 459.6,118.6 459.2,118.7 458.8,118.7 458.4,118.6 458,118.7 457.6,118.6 457.2,118.7 456.8,118.6 456.4,118.6 456,118.7 455.6,118.7 455.2,118.6 454.8,118.6 454.4,118.6 454,118.6 453.6,118.6 453.2,118.6 452.8,118.7 452.4,118.6 452,118.7 451.6,118.6 451.2,118.6 450.8,118.6 450.4,118.8 450,118.8 449.6,118.7 449.2,118.6 448.8,118.6 448.4,118.7 448,118.6 447.6,118.6 447.2,118.7 446.8,118.6 446.4,118.8 446,118.6 445.6,118.7 445.2,118.6 444.8,118.6 444.4,118.6 444,118.6 443.6,118.7 443.2,118.6 442.8,118.6 442.4,118.6 442,118.7 441.6,118.7 441.2,118.7 440.8,118.7 440.4,118.7 440,118.7 439.6,118.7 439.2,126.3 438.8,127.7 438.4,127.7 438,126.8 437.6,124.4 437.2,127.8 436.8,127.8 436.4,127.9 436,127.8 435.6,128.7 435.2,130.1 434.8,125.7 434.4,130 434,128.7 433.6,128.9 433.2,130.2 432.8,129.7 432.4,129 432,129.8 431.6,130.6 431.2,128.8 430.8,129.6 430.4,126.2 430,130.9 429.6,131.6 429.2,128.7 428.8,132.5 428.4,133.5 428,133.5 427.6,134.6 427.2,133.1 426.8,134.9 426.4,134.4 426,135.3 425.6,135.5 425.2,133.1 424.8,134.9 424.4,135.5 424,129.8 423.6,128.9 423.2,137.2 422.8,137.2 422.4,134.4 422,138.5 421.6,146.3 421.2,154.8 420.8,162.4 420.4,175 420,178.2 419.6,179.7 419.2,173.1 418.8,177.7 418.4,172.7 418,162.5 417.6,152 417.2,152.6 416.8,152.7 416.4,150.6 416,151.6 415.6,142.6 415.2,153.9 414.8,151.2 414.4,152.9 414,149.6 413.6,153 413.2,146.8 412.8,118.6 412.4,118.6 412,118.7 411.6,118.7 411.2,118.6 410.8,118.6 410.4,118.6 410,118.6 409.6,118.6 409.2,118.6 408.8,118.7 408.4,118.6 408,118.6 407.6,118.8 407.2,118.7 406.8,118.6 406.4,118.7 406,118.6 405.6,118.7 405.2,118.7 404.8,118.6 404.4,118.6 404,118.7 403.6,118.7 403.2,118.8 402.8,118.7 402.4,118.6 402,118.7 401.6,118.6 401.2,118.6 400.8,118.6 400.4,118.6 400,118.7 399.6,118.7 399.2,118.7 398.8,118.7 398.4,118.6 398,118.8 397.6,118.7 397.2,118.6 396.8,118.6 396.4,118.6 396,118.6 395.6,118.6 395.2,118.6 394.8,118.7 394.4,118.6 394,118.7 393.6,118.6 393.2,118.7 392.8,118.6 392.4,118.6 392,118.6 391.6,118.6 391.2,118.7 390.8,118.6 390.4,118.7 390,118.7 389.6,118.7 389.2,118.6 388.8,118.6 388.4,118.6 388,118.6 387.6,118.6 387.2,118.7Z" fill="#46237a" stroke="#46237a" stroke-width="0.4" stroke-linejoin="round"/>
<rect x="386.6" y="12.3" width="287.8" height="209.3" fill="none" stroke="#262626" stroke-width="1.2"/>
<path d="M386.6,221.6h-4.3M386.6,204.2h-2.3M386.6,186.7h-4.3M386.6,169.3h-2.3M386.6,151.8h-4.3M386.6,134.4h-2.3M386.6,116.9h-4.3M386.6,99.5h-2.3M386.6,82.1h-4.3M386.6,64.6h-2.3M386.6,47.2h-4.3M386.6,29.7h-2.3M386.6,12.3h-4.3M386.9,221.6v4.3M413,221.6v2.3M439.1,221.6v4.3M465.3,221.6v2.3M491.4,221.6v4.3M517.5,221.6v2.3M543.6,221.6v4.3M569.7,221.6v2.3M595.9,221.6v4.3M622,221.6v2.3M648.1,221.6v4.3M674.2,221.6v2.3" stroke="#262626" stroke-width="1.1" fill="none"/>
<text x="379.6" y="226.4" font-size="13.3" text-anchor="end" font-weight="normal" fill="#231815" >-1.5</text>
<text x="379.6" y="191.5" font-size="13.3" text-anchor="end" font-weight="normal" fill="#231815" >-1.0</text>
<text x="379.6" y="156.6" font-size="13.3" text-anchor="end" font-weight="normal" fill="#231815" >-0.5</text>
<text x="379.6" y="121.7" font-size="13.3" text-anchor="end" font-weight="normal" fill="#231815" >0.0</text>
<text x="379.6" y="86.9" font-size="13.3" text-anchor="end" font-weight="normal" fill="#231815" >0.5</text>
<text x="379.6" y="52" font-size="13.3" text-anchor="end" font-weight="normal" fill="#231815" >1.0</text>
<text x="379.6" y="17.1" font-size="13.3" text-anchor="end" font-weight="normal" fill="#231815" >1.5</text>
<text x="386.9" y="240.5" font-size="13.3" text-anchor="middle" font-weight="normal" fill="#231815" >0</text>
<text x="439.1" y="240.5" font-size="13.3" text-anchor="middle" font-weight="normal" fill="#231815" >60</text>
<text x="491.4" y="240.5" font-size="13.3" text-anchor="middle" font-weight="normal" fill="#231815" >120</text>
<text x="543.6" y="240.5" font-size="13.3" text-anchor="middle" font-weight="normal" fill="#231815" >180</text>
<text x="595.9" y="240.5" font-size="13.3" text-anchor="middle" font-weight="normal" fill="#231815" >240</text>
<text x="648.1" y="240.5" font-size="13.3" text-anchor="middle" font-weight="normal" fill="#231815" >300</text>
<text x="531" y="258.9" font-size="15" text-anchor="middle" font-weight="normal" fill="#231815" >Time (s)</text>
<text x="346" y="125.6" font-size="15.2" text-anchor="middle" font-weight="normal" fill="#231815" transform="rotate(-90 346 125.6)">Voltage (V)</text>
<text x="390.3" y="26.9" font-size="13" text-anchor="start" font-weight="normal" fill="#231815" >Off</text>
<text x="416.9" y="26.9" font-size="13" text-anchor="start" font-weight="normal" fill="#231815" >On</text>
<text x="335.5" y="12.4" font-size="22" text-anchor="start" font-weight="bold" fill="#231815" >c</text>
<path d="M32.5,489.3v2.2M49.7,489.3v1.5M66.8,489.3v2.2M84,489.3v1.5M101.2,489.3v2.2M118.4,489.3v1.5M135.6,489.3v2.2M152.7,489.3v1.5M169.9,489.3v2.2" stroke="#555" stroke-width="0.9" fill="none"/>
<path d="M32.5,489.3V285.2H169.9V489.3" stroke="#8c8c8c" stroke-width="1" fill="none"/>
<path d="M32,489.3H170.4" stroke="#555" stroke-width="1" fill="none"/>
<text x="32.5" y="502" font-size="10.4" text-anchor="middle" font-weight="normal" fill="#231815" textLength="21.6" lengthAdjust="spacingAndGlyphs" >3420</text>
<text x="66.8" y="502" font-size="10.4" text-anchor="middle" font-weight="normal" fill="#231815" textLength="21.6" lengthAdjust="spacingAndGlyphs" >3450</text>
<text x="101.2" y="502" font-size="10.4" text-anchor="middle" font-weight="normal" fill="#231815" textLength="21.6" lengthAdjust="spacingAndGlyphs" >3480</text>
<text x="135.6" y="502" font-size="10.4" text-anchor="middle" font-weight="normal" fill="#231815" textLength="21.6" lengthAdjust="spacingAndGlyphs" >3510</text>
<text x="169.9" y="502" font-size="10.4" text-anchor="middle" font-weight="normal" fill="#231815" textLength="21.6" lengthAdjust="spacingAndGlyphs" >3540</text>
<text x="43.7" y="516.9" font-size="11.3" fill="#231815">Magnetic Field <tspan font-size="8" dy="0.5">(</tspan><tspan dy="-0.5">*10</tspan><tspan font-size="7" dy="-4.5">-4</tspan><tspan dy="4.5"> T</tspan><tspan font-size="8" dy="0.5">)</tspan></text>
<path d="M33.1,307.6 33.4,311.5 33.7,311.6 34,313.2 34.3,312.6 34.6,310.2 34.9,310.7 35.2,312 35.5,313.3 35.8,311.4 36.1,315.2 36.4,313 36.7,312.6 37,313.8 37.3,312.7 37.6,313.8 37.9,314.3 38.2,310.2 38.5,311.9 38.8,311 39.1,313.3 39.4,312 39.7,312.7 40,312 40.3,310 40.6,314.3 40.9,313.4 41.2,313.6 41.5,319 41.8,315.7 42.1,313.4 42.4,311.9 42.7,313.8 43,311 43.3,310.6 43.6,313.3 43.9,310.7 44.2,310.3 44.5,312.2 44.8,314.3 45.1,310.3 45.4,312.7 45.7,312.9 46,312.2 46.3,313.3 46.6,310.4 46.9,310.7 47.2,309.9 47.5,310.9 47.8,313 48.1,311.8 48.4,310.4 48.7,312.5 49,307.3 49.3,312 49.6,312.9 49.9,310.5 50.2,311.2 50.5,312.6 50.8,312.8 51.1,311.6 51.4,310.5 51.7,310.7 52,312.5 52.3,311.5 52.6,311 52.9,311 53.2,317.4 53.5,313.4 53.8,313.3 54.1,312.2 54.4,311.3 54.7,310.2 55,310.9 55.3,312.5 55.6,312.4 55.9,309.4 56.2,313.1 56.5,311.2 56.8,309.5 57.1,311.3 57.4,315 57.7,310.9 58,312.1 58.3,311.7 58.6,309.9 58.9,311 59.2,312.4 59.5,310.4 59.8,310.9 60.1,311.5 60.4,311.4 60.7,311.1 61,312 61.3,312 61.6,311.6 61.9,313.3 62.2,313.5 62.5,309.5 62.8,311.8 63.1,311.5 63.4,311.4 63.7,311.1 64,311.4 64.3,311.3 64.6,312.7 64.9,309.8 65.2,312.4 65.5,309.8 65.8,314.3 66.1,313.1 66.4,310 66.7,311.4 67,312.4 67.3,310.6 67.6,312.9 67.9,311.4 68.2,315.2 68.5,312.8 68.8,313.2 69.1,311.4 69.4,311 69.7,313.9 70,309.7 70.3,313.1 70.6,315.4 70.9,316 71.2,310.1 71.5,312.9 71.8,313.9 72.1,314.1 72.4,314.4 72.7,310.7 73,312.8 73.3,309.9 73.6,313.3 73.9,316.8 74.2,311.9 74.5,313.9 74.8,313.7 75.1,311.1 75.4,312.3 75.7,311.2 76,312.9 76.3,314.5 76.6,312.3 76.9,312.4 77.2,310.9 77.5,311.4 77.8,312.7 78.1,311.7 78.4,311.7 78.7,313.2 79,311.4 79.3,313 79.6,311.8 79.9,314.3 80.2,312.7 80.5,312.3 80.8,314.5 81.1,313.7 81.4,313.7 81.7,311.6 82,313.9 82.3,311.8 82.6,309.7 82.9,311.9 83.2,315 83.5,312.1 83.8,310.2 84.1,312.1 84.4,309.9 84.7,310.6 85,310.7 85.3,311.9 85.6,312.2 85.9,312.5 86.2,311.7 86.5,310.6 86.8,311.1 87.1,312.1 87.4,311.6 87.7,310.8 88,313.8 88.3,312.5 88.6,312.5 88.9,311.4 89.2,311.7 89.5,311.7 89.8,312.7 90.1,310 90.4,310.4 90.7,314 91,311.5 91.3,313.5 91.6,309.2 91.9,312.6 92.2,312.2 92.3,311.7 92.5,312.2 92.8,312 93.1,309 93.4,311.1 93.7,310.4 94,309.5 94.2,312.1 94.3,308.7 94.6,310.4 94.9,310.2 95.2,312.9 95.5,310.1 95.8,310.7 96.1,312.2 96.4,307.6 96.7,310.3 97,311.6 97.3,311 97.6,309.3 97.9,309.1 98.2,310.2 98.5,309.1 98.8,308.6 99.1,313.3 99.4,312.1 99.7,312.6 100,311.1 100.3,308.8 100.6,309.9 100.9,312.6 101.2,311.4 101.5,309.6 101.8,312 102.1,311.1 102.4,310.3 102.7,313.6 103,309.6 103.3,310.6 103.6,310 103.9,312.4 104.2,312.6 104.5,312.5 104.8,311 105.1,311.4 105.4,311.4 105.7,308.4 106,309.5 106.3,312.6 106.6,312.5 106.9,308.9 107.2,312 107.5,309 107.8,308.8 108.1,312.1 108.4,311.8 108.7,311.3 109,312.4 109.3,312.8 109.4,311.8 109.6,310.2 109.9,312.3 110.2,312 110.5,312.2 110.8,313.9 111,311.1 111.1,315.5 111.4,313.1 111.7,311 112,314.4 112.3,311.1 112.6,310.2 112.9,313.4 113.2,311.8 113.5,313.8 113.8,311.1 114.1,312 114.4,312 114.7,309.9 115,311.6 115.3,310.1 115.6,311.6 115.9,314.4 116.2,311.6 116.5,311.3 116.8,314.3 117.1,310 117.4,312 117.7,311.6 118,313.5 118.3,311.9 118.6,311.7 118.9,312.5 119.2,312 119.5,315.4 119.8,309.8 120.1,314 120.4,315.7 120.7,313.9 121,314 121.3,312 121.6,314.2 121.9,312.4 122.2,314.5 122.5,309.6 122.8,312.1 123.1,309.5 123.4,314.8 123.7,312.3 124,315 124.3,312.5 124.6,312.3 124.9,315.9 125.2,315 125.5,314.8 125.8,315.1 126.1,313.5 126.3,312.4 126.4,314.5 126.7,311.9 127,311.1 127.3,313.7 127.6,312.5 127.7,311.6 127.9,311.4 128.2,311.9 128.5,309.6 128.8,309.4 129.1,309.8 129.4,311.3 129.7,308.2 130,308.5 130.3,311.9 130.6,311.4 130.9,309.2 131.2,312.3 131.5,310.1 131.8,310.6 132.1,312 132.4,311.6 132.7,313.9 133,312.4 133.3,315.1 133.6,308.4 133.9,309.8 134.2,310.2 134.5,311.7 134.8,310.6 135.1,310.6 135.4,311.1 135.7,311.5 136,314.4 136.3,312 136.6,313.5 136.9,314.4 137.2,314.1 137.5,311.5 137.8,310.3 138.1,314.1 138.4,309.2 138.7,309.9 139,313 139.3,313.2 139.6,312.4 139.9,310.5 140.2,312.6 140.5,313.8 140.8,311.1 141.1,315 141.4,311.5 141.7,310 142,311.6 142.3,310.9 142.6,311.4 142.9,310.9 143.2,311.4 143.5,313.2 143.8,312.5 144.1,312.6 144.4,310.7 144.7,310 145,312.5 145.3,314.5 145.6,314.6 145.9,313.7 146.2,311.1 146.5,313 146.8,313.3 147.1,314.5 147.4,312.1 147.7,312.8 148,313.2 148.3,313.1 148.6,310.3 148.9,313.2 149.2,310.1 149.5,310.5 149.8,312.5 150.1,310.9 150.4,312.5 150.7,314 151,312.9 151.3,313.8 151.6,311.3 151.9,311.9 152.2,310.9 152.5,310.1 152.8,316.4 153.1,310.8 153.4,314.1 153.7,310.8 154,312.1 154.3,310.8 154.6,308.6 154.9,313.2 155.2,310.4 155.5,310.7 155.8,313.3 156.1,309.3 156.4,310 156.7,310.8 157,311.4 157.3,304.7 157.6,310.6 157.9,312.8 158.2,311.3 158.5,310 158.8,310.1 159.1,309.7 159.4,311.2 159.7,308.6 160,310.4 160.3,311.6 160.6,310.9 160.9,310.4 161.2,308.5 161.5,309.2 161.8,310.3 162.1,309.7 162.4,309.4 162.7,306.3 163,310.6 163.3,309.2 163.6,308.8 163.9,311.7 164.2,310 164.5,310 164.8,311.3 165.1,309.7 165.4,309.2 165.7,309 166,311.3 166.3,310.8 166.6,307.1 166.9,312.6 167.2,310.7 167.5,309.6 167.8,310.9 168.1,310.4 168.4,311.3 168.7,310.2 169,309.8 169.3,312.4" fill="none" stroke="#111" stroke-width="1.35" stroke-linejoin="round" />
<path d="M33.1,342.5 33.4,345.2 33.7,341.6 34,341 34.3,342.5 34.6,340.3 34.9,342.7 35.2,345.5 35.5,343.7 35.8,345.4 36.1,346.8 36.4,346.9 36.7,341.5 37,345.1 37.3,343.8 37.6,344.8 37.9,343.6 38.2,344.2 38.5,344.1 38.8,345 39.1,345.5 39.4,344.4 39.7,343.2 40,340.6 40.3,342.9 40.6,341.8 40.9,343.8 41.2,344.9 41.5,346.8 41.8,344.6 42.1,347.7 42.4,344.6 42.7,341.9 43,343.7 43.3,342 43.6,344.7 43.9,346.1 44.2,345 44.5,345.5 44.8,343.4 45.1,342.1 45.4,346.1 45.7,345.7 46,345.6 46.3,346 46.6,346.9 46.9,345.1 47.2,345 47.5,344.8 47.8,346.8 48.1,345.3 48.4,347.5 48.7,343.8 49,346.2 49.3,345.4 49.6,345.3 49.9,345.8 50.2,346.3 50.5,347.4 50.8,342.2 51.1,344 51.4,343.5 51.7,341.1 52,344.1 52.3,342.9 52.6,343.8 52.9,342.2 53.2,343.5 53.5,343.5 53.8,344.2 54.1,343.8 54.4,342.8 54.7,347 55,344.5 55.3,344.9 55.6,344.7 55.9,347.9 56.2,343.5 56.5,346.2 56.8,344.9 57.1,345.2 57.4,346.9 57.7,344.6 58,346.5 58.3,345.4 58.6,344.7 58.9,344.1 59.2,343.9 59.5,344.3 59.8,341.1 60.1,343.6 60.4,346.1 60.7,344.8 61,344.8 61.3,344.3 61.6,345 61.9,345.1 62.2,341.9 62.5,344.1 62.8,344.5 63.1,343.7 63.4,343.3 63.7,341.1 64,342.3 64.3,342 64.6,349 64.9,343.5 65.2,342.4 65.5,341.6 65.8,344.7 66.1,347 66.4,343.9 66.7,345.7 67,347.4 67.3,345.7 67.6,343.5 67.9,343 68.2,344 68.5,347.2 68.8,342 69.1,347.2 69.4,345.7 69.7,347.4 70,343.1 70.3,344.5 70.6,344.4 70.9,345.8 71.2,346.2 71.5,346.2 71.8,348.7 72.1,343.6 72.4,344.3 72.7,346.6 73,345.7 73.3,344.8 73.6,343.2 73.9,344.9 74.2,345.7 74.5,346.6 74.8,344.3 75.1,338.7 75.4,333.8 75.7,338.5 76,341.3 76.3,343.5 76.6,347.5 76.9,351.6 77.2,348.8 77.5,347.1 77.8,345.7 78.1,343.8 78.4,346.8 78.7,341.9 79,345.3 79.3,342.2 79.6,344.2 79.9,342.4 80.2,344 80.5,345.7 80.8,342.9 81.1,344.2 81.4,344.1 81.7,344.1 82,342.6 82.3,343.2 82.6,344.1 82.9,346.7 83.2,345 83.5,344.2 83.8,341.8 84.1,344.1 84.4,344.4 84.7,342.4 85,344.2 85.3,343.7 85.6,343 85.9,345.5 86.2,342.1 86.5,343 86.8,344.1 87.1,345.1 87.4,343 87.7,341.1 88,344.2 88.3,344.5 88.6,342 88.9,345.3 89.2,345.9 89.5,342.9 89.8,343.3 90.1,343.1 90.4,343.8 90.7,342.1 91,343.1 91.3,343.7 91.6,340.1 91.9,333.2 92.2,327.1 92.3,326.8 92.5,329.7 92.8,340.8 93.1,342.7 93.4,346.5 93.7,350.8 94,358.8 94.2,359 94.3,358.1 94.6,355.2 94.9,349.7 95.2,346.3 95.5,345.8 95.8,344 96.1,345.7 96.4,347.3 96.7,345.7 97,344.6 97.3,346 97.6,342.5 97.9,345.9 98.2,341.6 98.5,342.4 98.8,345 99.1,343.2 99.4,341.8 99.7,343.6 100,345.3 100.3,343.1 100.6,340.1 100.9,345.3 101.2,342.2 101.5,342.9 101.8,343.1 102.1,343.8 102.4,343.5 102.7,341.5 103,342.2 103.3,344.3 103.6,340 103.9,344.3 104.2,341.7 104.5,342.3 104.8,340.7 105.1,342.3 105.4,341.7 105.7,343.1 106,341.6 106.3,342.7 106.6,340.3 106.9,344.4 107.2,341.8 107.5,343 107.8,343.3 108.1,344.6 108.4,343 108.7,341.7 109,335.6 109.3,326.6 109.4,326.3 109.6,327.3 109.9,335.7 110.2,340.6 110.5,346.9 110.8,352.5 111,357.6 111.1,356.9 111.4,353.5 111.7,347.9 112,344 112.3,342.5 112.6,343.8 112.9,344.7 113.2,347.1 113.5,343.7 113.8,343.7 114.1,345.5 114.4,343.1 114.7,342.6 115,344.3 115.3,343.3 115.6,344.1 115.9,347 116.2,344.9 116.5,345.5 116.8,343.9 117.1,345.9 117.4,345.6 117.7,346.2 118,345.1 118.3,344.9 118.6,343.4 118.9,343.2 119.2,344.3 119.5,344.3 119.8,344.3 120.1,344.6 120.4,342.4 120.7,348.4 121,345.3 121.3,344.3 121.6,343.2 121.9,347.1 122.2,344.7 122.5,344.1 122.8,345.9 123.1,348 123.4,345.7 123.7,347.3 124,344.3 124.3,346.2 124.6,342.6 124.9,345.2 125.2,346.7 125.5,345.2 125.8,343.1 126.1,338.3 126.3,336 126.4,338.8 126.7,340.7 127,347.1 127.3,349.1 127.6,349.8 127.7,354.1 127.9,350.5 128.2,347.7 128.5,349.4 128.8,346 129.1,345.4 129.4,342.2 129.7,344.5 130,344.2 130.3,343.1 130.6,343.8 130.9,343.4 131.2,344 131.5,341.8 131.8,344 132.1,339.8 132.4,343.2 132.7,343.9 133,342.1 133.3,342.2 133.6,345.9 133.9,342.6 134.2,344.7 134.5,343.3 134.8,340.8 135.1,343 135.4,341.4 135.7,342.8 136,339.6 136.3,342.8 136.6,344.2 136.9,344.6 137.2,344.1 137.5,342.3 137.8,342.3 138.1,341 138.4,342 138.7,342.5 139,342.8 139.3,344 139.6,343.8 139.9,342.7 140.2,342.4 140.5,344.1 140.8,345.9 141.1,344.7 141.4,343.3 141.7,347.6 142,344.7 142.3,343.5 142.6,345.2 142.9,345.9 143.2,342 143.5,343.1 143.8,345.6 144.1,343.3 144.4,343.2 144.7,347.4 145,342.1 145.3,347.8 145.6,346.4 145.9,347.9 146.2,346 146.5,347.4 146.8,345.5 147.1,343.8 147.4,344.9 147.7,345.8 148,343 148.3,346.8 148.6,343.4 148.9,345 149.2,344.5 149.5,344.9 149.8,344.7 150.1,344.9 150.4,346.1 150.7,345.2 151,343.3 151.3,344.1 151.6,346 151.9,345.2 152.2,344.5 152.5,343.4 152.8,342.7 153.1,343 153.4,344.3 153.7,343.4 154,345.9 154.3,348.3 154.6,344 154.9,346.9 155.2,345.5 155.5,346.5 155.8,343.5 156.1,346.7 156.4,344.5 156.7,345.7 157,346.8 157.3,347.2 157.6,344.1 157.9,344.1 158.2,343.5 158.5,341.9 158.8,344.1 159.1,343.8 159.4,344.4 159.7,343.9 160,345.2 160.3,346.2 160.6,342.2 160.9,347.8 161.2,344.7 161.5,343.3 161.8,343.5 162.1,345 162.4,343.4 162.7,344.2 163,344.7 163.3,343 163.6,343.2 163.9,343.4 164.2,341.3 164.5,344.2 164.8,342.1 165.1,343.5 165.4,341.9 165.7,343 166,342.7 166.3,344.7 166.6,344.4 166.9,344.4 167.2,343.3 167.5,342 167.8,341.6 168.1,343.8 168.4,342.8 168.7,345.7 169,347.3 169.3,345.5" fill="none" stroke="#111" stroke-width="1.35" stroke-linejoin="round" />
<path d="M33.1,391.4 33.4,388.7 33.7,390.6 34,391.2 34.3,391 34.6,390 34.9,386 35.2,392.8 35.5,389.6 35.8,389.9 36.1,388.2 36.4,390.6 36.7,393.4 37,387.6 37.3,391.6 37.6,389.5 37.9,391.7 38.2,391.1 38.5,390.1 38.8,387.8 39.1,387.6 39.4,389.3 39.7,387.6 40,388.8 40.3,388.2 40.6,388.1 40.9,387.8 41.2,389.6 41.5,388.7 41.8,388.5 42.1,388.6 42.4,389.6 42.7,386 43,389.6 43.3,387.5 43.6,388.8 43.9,387 44.2,391.9 44.5,386 44.8,389.1 45.1,390.8 45.4,388.4 45.7,385.5 46,388 46.3,391 46.6,390.1 46.9,387.4 47.2,391.5 47.5,389.9 47.8,390.1 48.1,386.2 48.4,389.6 48.7,387.2 49,390.3 49.3,390.4 49.6,388.3 49.9,388.8 50.2,392.1 50.5,388.6 50.8,389 51.1,390.5 51.4,389.2 51.7,389.4 52,389.8 52.3,390 52.6,390.1 52.9,389.5 53.2,391 53.5,388.8 53.8,390.5 54.1,388 54.4,388.4 54.7,389.5 55,386.7 55.3,384.9 55.6,386.4 55.9,390.6 56.2,386.5 56.5,388.2 56.8,388.3 57.1,388.8 57.4,387.8 57.7,385.9 58,386.8 58.3,388 58.6,388.4 58.9,387.9 59.2,386.5 59.5,385.2 59.8,389.6 60.1,387.9 60.4,388.4 60.7,388.9 61,387.4 61.3,387.2 61.6,390.2 61.9,389.9 62.2,387 62.5,388 62.8,387.8 63.1,388.7 63.4,387.9 63.7,386.8 64,388.1 64.3,389.2 64.6,387.3 64.9,386.3 65.2,389.6 65.5,387 65.8,387.3 66.1,389.7 66.4,388.5 66.7,388.6 67,387.2 67.3,387 67.6,390 67.9,390.5 68.2,386.6 68.5,388.3 68.8,387.8 69.1,387.5 69.4,385.4 69.7,388.9 70,385.7 70.3,388.4 70.6,386.2 70.9,385.6 71.2,389.7 71.5,387.3 71.8,388.1 72.1,388.4 72.4,388 72.7,389.2 73,388.8 73.3,386.8 73.6,386.8 73.9,389.1 74.2,390.5 74.5,384.9 74.8,383 75.1,380.1 75.4,376.8 75.7,383.2 76,386.9 76.3,393.8 76.6,395.6 76.9,402.2 77.2,399.2 77.5,397.4 77.8,393.5 78.1,391.1 78.4,389.5 78.7,390.2 79,389.7 79.3,389 79.6,389.1 79.9,387 80.2,389.8 80.5,390.8 80.8,389.4 81.1,387 81.4,390 81.7,389.1 82,389.8 82.3,388.8 82.6,389.4 82.9,391 83.2,389.7 83.5,388.1 83.8,388.3 84.1,388.6 84.4,388.1 84.7,390 85,390 85.3,387.9 85.6,390.8 85.9,389.5 86.2,392 86.5,389.9 86.8,390.2 87.1,390.6 87.4,387.9 87.7,389.6 88,389.1 88.3,388.7 88.6,389.3 88.9,386.3 89.2,389.3 89.5,388 89.8,390.1 90.1,389.4 90.4,389 90.7,389.5 91,389.5 91.3,387.8 91.6,380.5 91.9,375.9 92.2,368.8 92.3,365.7 92.5,367.5 92.8,376.4 93.1,385.1 93.4,392.3 93.7,401.9 94,408.9 94.2,412.8 94.3,411.8 94.6,406.7 94.9,399.8 95.2,390.9 95.5,388.6 95.8,392 96.1,388.4 96.4,386.4 96.7,389.1 97,387.3 97.3,389.6 97.6,385.8 97.9,389.1 98.2,389.6 98.5,388.4 98.8,384.4 99.1,388.4 99.4,389.4 99.7,386.6 100,386.5 100.3,384.7 100.6,388.9 100.9,389.6 101.2,387.2 101.5,385.6 101.8,385.7 102.1,384.3 102.4,388.3 102.7,387.6 103,386.8 103.3,385.5 103.6,386.2 103.9,388 104.2,388.8 104.5,386.3 104.8,386.3 105.1,383.6 105.4,387.6 105.7,384.9 106,388.4 106.3,387.3 106.6,387.7 106.9,387.4 107.2,388 107.5,387.9 107.8,386.7 108.1,387.7 108.4,385.9 108.7,382.4 109,374.7 109.3,365 109.4,365 109.6,370.2 109.9,379.3 110.2,387.9 110.5,395.4 110.8,406.4 111,409.9 111.1,406.3 111.4,400.7 111.7,397 112,392.4 112.3,388.9 112.6,387.9 112.9,387.4 113.2,388.6 113.5,388.9 113.8,386.2 114.1,389.9 114.4,387.3 114.7,387.6 115,390.6 115.3,388.2 115.6,389.1 115.9,389.9 116.2,391.3 116.5,390.8 116.8,387.5 117.1,388.9 117.4,387.7 117.7,389.7 118,388.2 118.3,387.8 118.6,389.3 118.9,389.2 119.2,386.3 119.5,386.8 119.8,388.3 120.1,387 120.4,386 120.7,384.6 121,388.4 121.3,385.7 121.6,383.1 121.9,385.9 122.2,384.4 122.5,390.3 122.8,384.2 123.1,386.6 123.4,389.4 123.7,385.3 124,385 124.3,385 124.6,384.8 124.9,386.8 125.2,387.9 125.5,386.3 125.8,381.7 126.1,376.7 126.3,374.6 126.4,376.2 126.7,381.1 127,387.6 127.3,390.5 127.6,396.8 127.7,402.3 127.9,400.7 128.2,398.4 128.5,394.7 128.8,388.1 129.1,389.8 129.4,390.4 129.7,389.3 130,387.6 130.3,389.3 130.6,389.3 130.9,387.1 131.2,388 131.5,387.9 131.8,387 132.1,390 132.4,387.9 132.7,389.2 133,387 133.3,387.2 133.6,390 133.9,386.2 134.2,390 134.5,386.7 134.8,387.9 135.1,389.4 135.4,389.3 135.7,387.7 136,387.3 136.3,388.7 136.6,387.1 136.9,389.9 137.2,387.6 137.5,387.5 137.8,390.5 138.1,387.3 138.4,389.9 138.7,391.4 139,388.5 139.3,388 139.6,386.1 139.9,388.1 140.2,385.2 140.5,385.2 140.8,385.5 141.1,385.1 141.4,387 141.7,388.4 142,386.5 142.3,386.2 142.6,387.2 142.9,388.3 143.2,390.5 143.5,387.2 143.8,387.6 144.1,390 144.4,387.7 144.7,387.1 145,388.9 145.3,387.1 145.6,387.4 145.9,390.6 146.2,389.1 146.5,387.8 146.8,387 147.1,385.9 147.4,390.9 147.7,388.3 148,387.2 148.3,386.3 148.6,385.4 148.9,388.9 149.2,388.2 149.5,389.1 149.8,386.2 150.1,389.5 150.4,385.7 150.7,386.5 151,387.1 151.3,391 151.6,388.6 151.9,386.9 152.2,390.2 152.5,388.5 152.8,388 153.1,386.4 153.4,387.5 153.7,387.3 154,388.7 154.3,388 154.6,388.6 154.9,387.6 155.2,388.7 155.5,387.1 155.8,391 156.1,387 156.4,389.3 156.7,387.6 157,388.9 157.3,387.5 157.6,386.8 157.9,389.4 158.2,387.9 158.5,388.2 158.8,387.9 159.1,390.7 159.4,387.8 159.7,387.9 160,388.7 160.3,387.8 160.6,389.7 160.9,385.3 161.2,386.9 161.5,384.8 161.8,389 162.1,389.4 162.4,386.9 162.7,390.1 163,387.2 163.3,388.6 163.6,388.1 163.9,386.6 164.2,386.7 164.5,384.2 164.8,386.3 165.1,389 165.4,385.7 165.7,389.2 166,387.2 166.3,389.2 166.6,388.3 166.9,385.7 167.2,388.2 167.5,387.8 167.8,388.2 168.1,387.7 168.4,384.6 168.7,388.3 169,388.1 169.3,385.1" fill="none" stroke="#111" stroke-width="1.35" stroke-linejoin="round" />
<path d="M33.1,447.2 33.4,450.7 33.7,449.8 34,450 34.3,450.1 34.6,451.4 34.9,448.2 35.2,449.3 35.5,449.8 35.8,447.8 36.1,450.7 36.4,449.9 36.7,449 37,450.4 37.3,449.8 37.6,448.6 37.9,449.7 38.2,447.9 38.5,451.1 38.8,449.3 39.1,451.5 39.4,450.5 39.7,451.3 40,448.3 40.3,449.4 40.6,449.8 40.9,447.5 41.2,447.8 41.5,448.9 41.8,450.9 42.1,452.3 42.4,450.3 42.7,450.5 43,450.4 43.3,450.1 43.6,451.8 43.9,447.4 44.2,451.5 44.5,450.7 44.8,449 45.1,451.9 45.4,448.3 45.7,448 46,450 46.3,451.4 46.6,450.6 46.9,452.4 47.2,447.6 47.5,449.4 47.8,450.4 48.1,450.7 48.4,448.5 48.7,447.7 49,451.5 49.3,450.5 49.6,451.8 49.9,448 50.2,448.7 50.5,445.7 50.8,449.1 51.1,449.7 51.4,450 51.7,448.2 52,451.7 52.3,448.2 52.6,449 52.9,450.3 53.2,450.9 53.5,447.8 53.8,446.4 54.1,449.3 54.4,447.6 54.7,445.9 55,449.3 55.3,448.7 55.6,450.1 55.9,448.8 56.2,448.4 56.5,449.1 56.8,449.8 57.1,451 57.4,451 57.7,450.6 58,448.6 58.3,450 58.6,450.2 58.9,447.8 59.2,447.3 59.5,449.4 59.8,449.4 60.1,447.4 60.4,447.6 60.7,449.9 61,448.2 61.3,449.1 61.6,447.8 61.9,450.7 62.2,448.2 62.5,448.8 62.8,450.8 63.1,448.1 63.4,448.2 63.7,451.4 64,446.4 64.3,450.8 64.6,450.8 64.9,449.6 65.2,448.1 65.5,448.4 65.8,449.5 66.1,447.7 66.4,449.4 66.7,447.9 67,445.6 67.3,449.1 67.6,452.9 67.9,450.3 68.2,450.7 68.5,448.8 68.8,448.1 69.1,450.4 69.4,450.6 69.7,449.3 70,449.4 70.3,453.2 70.6,447.8 70.9,449.4 71.2,450.1 71.5,449.6 71.8,451.5 72.1,449.8 72.4,448.2 72.7,448 73,442.7 73.3,437.6 73.6,431.8 73.9,436.6 74.2,445.2 74.5,453.9 74.8,463.7 75,466.1 75.1,467.2 75.4,458.3 75.7,455.6 76,453.3 76.3,451.2 76.6,446.8 76.9,448.7 77.2,452.6 77.5,450.7 77.8,452.5 78.1,453.3 78.4,450.4 78.7,447.1 79,448.4 79.3,450.9 79.6,452.1 79.9,451 80.2,449.9 80.5,453.5 80.8,454 81.1,448.3 81.4,451.1 81.7,449.3 82,451.7 82.3,449.7 82.6,452.6 82.9,451.3 83.2,449.9 83.5,450.1 83.8,452.3 84.1,450.3 84.4,452.8 84.7,453.7 85,450.6 85.3,449.2 85.6,449.7 85.9,452.6 86.2,449.6 86.5,449.8 86.8,451.7 87.1,454.3 87.4,449.5 87.7,449.6 88,450 88.3,453.1 88.6,452.7 88.9,448.5 89.2,449.3 89.5,449.6 89.8,444 90.1,432.5 90.4,423.7 90.5,419.2 90.7,429 91,439.3 91.3,452.8 91.6,462.9 91.9,475.6 92,481.2 92.2,472 92.5,468 92.8,457.2 93.1,447.7 93.4,447.3 93.7,452.3 94,447.3 94.3,447 94.6,446.7 94.9,452.3 95.2,450.1 95.5,449.4 95.8,450.5 96.1,447.3 96.4,450.4 96.7,447.5 97,448.4 97.3,451.2 97.6,450.7 97.9,449.8 98.2,449.2 98.5,447.7 98.8,449.2 99.1,447.8 99.4,451.9 99.7,454.5 100,450.2 100.3,449.1 100.6,450.6 100.9,451.3 101.2,448.9 101.5,447 101.8,449.7 102.1,450.5 102.4,450.2 102.7,445.6 103,448.6 103.3,447.3 103.6,446.7 103.9,446.9 104.2,449.9 104.5,447 104.8,447.2 105.1,447.9 105.4,447.6 105.7,449.6 106,448.9 106.3,449.9 106.6,447.9 106.9,446.8 107.2,435.5 107.5,428.5 107.7,420.8 107.8,425.2 108.1,438.8 108.4,452.8 108.7,466.9 108.9,476 109,476.9 109.3,465.3 109.6,461 109.9,453.4 110.2,452.1 110.5,449 110.8,451.8 111.1,449.6 111.4,448.8 111.7,448.2 112,448.5 112.3,449.4 112.6,452.2 112.9,449 113.2,449.3 113.5,450 113.8,449.8 114.1,451.2 114.4,452 114.7,449.7 115,449.2 115.3,452.3 115.6,448.6 115.9,449.5 116.2,448.7 116.5,449.5 116.8,448.7 117.1,449 117.4,449.1 117.7,452.4 118,449.5 118.3,450.9 118.6,452.6 118.9,449.7 119.2,452.7 119.5,449.5 119.8,448.1 120.1,451.7 120.4,449.3 120.7,450.1 121,449.5 121.3,452.5 121.6,449.2 121.9,449.6 122.2,448.8 122.5,449.5 122.8,448.3 123.1,450.1 123.4,449.8 123.7,448.7 124,450 124.3,444.4 124.6,439.1 124.9,432.5 125,431.6 125.2,434.8 125.5,441.5 125.8,451 126.1,457.2 126.4,465.1 126.7,463 127,457.1 127.3,451.3 127.6,451 127.9,452.8 128.2,450 128.5,451.3 128.8,447.7 129.1,450.5 129.4,450.4 129.7,451.5 130,450.2 130.3,451.2 130.6,451.5 130.9,450.2 131.2,451.5 131.5,448.5 131.8,452.5 132.1,451 132.4,451.7 132.7,452.6 133,447.7 133.3,453.2 133.6,447.8 133.9,452 134.2,449.4 134.5,445.7 134.8,452.4 135.1,451.3 135.4,447.2 135.7,448.9 136,450.1 136.3,449.4 136.6,451.2 136.9,450.1 137.2,448.2 137.5,450.8 137.8,450.2 138.1,448.6 138.4,447.7 138.7,451.5 139,450.2 139.3,451.4 139.6,451.5 139.9,451.5 140.2,451.8 140.5,453.5 140.8,454.3 141.1,452.3 141.4,451.1 141.7,449.7 142,452.5 142.3,451.9 142.6,451 142.9,450.9 143.2,452.2 143.5,451.6 143.8,448.4 144.1,451.5 144.4,451.3 144.7,453 145,450 145.3,451 145.6,448.1 145.9,451 146.2,449.2 146.5,449.1 146.8,448.4 147.1,452.8 147.4,448.1 147.7,450.4 148,450.6 148.3,450.7 148.6,450.9 148.9,450.7 149.2,453.7 149.5,449.7 149.8,450.2 150.1,451.5 150.4,450.3 150.7,446.7 151,450.2 151.3,451.5 151.6,448.2 151.9,452 152.2,451.1 152.5,451.5 152.8,451.3 153.1,449.8 153.4,450 153.7,452.4 154,451.3 154.3,450.9 154.6,451.5 154.9,451.5 155.2,452.9 155.5,452.9 155.8,451.5 156.1,453 156.4,450.9 156.7,451.6 157,452.4 157.3,452 157.6,451.9 157.9,451.3 158.2,450.3 158.5,450.2 158.8,451.1 159.1,447.7 159.4,448.1 159.7,449.4 160,448 160.3,448.6 160.6,449.5 160.9,448.9 161.2,445.2 161.5,447.6 161.8,447.5 162.1,449.7 162.4,447.9 162.7,445.2 163,447.8 163.3,447 163.6,446.8 163.9,448 164.2,446.9 164.5,449.3 164.8,448.9 165.1,450.6 165.4,445.7 165.7,449.7 166,450.5 166.3,448.6 166.6,451.4 166.9,451.2 167.2,452.2 167.5,451.9 167.8,452.4 168.1,451.1 168.4,452.8 168.7,453 169,452.7 169.3,451.8" fill="none" stroke="#111" stroke-width="1.35" stroke-linejoin="round" />
<text x="35.8" y="297.3" font-size="11.2" text-anchor="start" font-weight="normal" fill="#231815" >DMPO-·OH</text>
<text x="162.8" y="302.5" font-size="10" text-anchor="end" font-weight="normal" fill="#231815" >0 min</text>
<text x="162.8" y="335.5" font-size="10" text-anchor="end" font-weight="normal" fill="#231815" >1 min</text>
<text x="162.8" y="381.4" font-size="10" text-anchor="end" font-weight="normal" fill="#231815" >2 min</text>
<text x="162.8" y="442" font-size="10" text-anchor="end" font-weight="normal" fill="#231815" >5 min</text>
<text x="100.2" y="278.1" font-size="17" text-anchor="middle" font-weight="normal" fill="#231815" >air</text>
<text x="10.2" y="292.4" font-size="22" text-anchor="start" font-weight="bold" fill="#231815" >d</text>
<text x="17.2" y="393.6" font-size="11.6" text-anchor="middle" font-weight="normal" fill="#231815" transform="rotate(-90 17.2 393.6)">Intensity (a.u.)</text>
<path d="M199.9,489.3v2.2M217,489.3v1.5M234.1,489.3v2.2M251.2,489.3v1.5M268.2,489.3v2.2M285.3,489.3v1.5M302.4,489.3v2.2M319.5,489.3v1.5M336.6,489.3v2.2" stroke="#555" stroke-width="0.9" fill="none"/>
<path d="M199.9,489.3V285.2H336.6V489.3" stroke="#8c8c8c" stroke-width="1" fill="none"/>
<path d="M199.4,489.3H337.1" stroke="#555" stroke-width="1" fill="none"/>
<text x="199.9" y="502" font-size="10.4" text-anchor="middle" font-weight="normal" fill="#231815" textLength="21.6" lengthAdjust="spacingAndGlyphs" >3420</text>
<text x="234.1" y="502" font-size="10.4" text-anchor="middle" font-weight="normal" fill="#231815" textLength="21.6" lengthAdjust="spacingAndGlyphs" >3450</text>
<text x="268.2" y="502" font-size="10.4" text-anchor="middle" font-weight="normal" fill="#231815" textLength="21.6" lengthAdjust="spacingAndGlyphs" >3480</text>
<text x="302.4" y="502" font-size="10.4" text-anchor="middle" font-weight="normal" fill="#231815" textLength="21.6" lengthAdjust="spacingAndGlyphs" >3510</text>
<text x="336.6" y="502" font-size="10.4" text-anchor="middle" font-weight="normal" fill="#231815" textLength="21.6" lengthAdjust="spacingAndGlyphs" >3540</text>
<text x="211.1" y="516.9" font-size="11.3" fill="#231815">Magnetic Field <tspan font-size="8" dy="0.5">(</tspan><tspan dy="-0.5">*10</tspan><tspan font-size="7" dy="-4.5">-4</tspan><tspan dy="4.5"> T</tspan><tspan font-size="8" dy="0.5">)</tspan></text>
<path d="M200.5,314.6 200.8,310 201.1,311.1 201.4,315.3 201.7,315.5 202,311.7 202.3,314.6 202.6,313.7 202.9,314.8 203.2,316.5 203.5,315 203.8,316.3 204.1,317.6 204.4,315.3 204.7,311.1 205,311.6 205.3,314.8 205.6,314.1 205.9,313.3 206.2,312 206.5,313.9 206.8,315.8 207.1,315.7 207.4,312.6 207.7,310.2 208,316.1 208.3,319.2 208.6,313.4 208.9,315.1 209.2,314.8 209.5,312.9 209.8,315.1 210.1,318.1 210.4,319.4 210.7,315.9 211,317.8 211.3,315 211.6,317.7 211.9,316.1 212.2,318.4 212.5,316.4 212.8,315.9 213.1,313.9 213.4,312.4 213.7,314.8 214,316.4 214.3,310.7 214.6,313.5 214.9,313.4 215.2,312.8 215.5,311.3 215.8,311.5 216.1,312.4 216.4,312.2 216.7,315.3 217,314.4 217.3,313.8 217.6,313.2 217.9,313.1 218.2,312.8 218.5,313.8 218.8,314.7 219.1,316.7 219.4,311.8 219.7,312.4 220,315.3 220.3,313.2 220.6,313.5 220.9,314 221.2,317.9 221.5,316.3 221.8,315.6 222.1,311.3 222.4,315.9 222.7,315.1 223,316.7 223.3,315.9 223.6,314.1 223.9,318.5 224.2,320 224.5,313.5 224.8,314.2 225.1,315.4 225.4,312.5 225.7,312.3 226,318 226.3,314.2 226.6,311.8 226.9,315 227.2,314.2 227.5,312 227.8,314.6 228.1,316.4 228.4,315.5 228.7,316.5 229,312.7 229.3,316.7 229.6,311.4 229.9,316.5 230.2,313.1 230.5,315.8 230.8,313.2 231.1,310.4 231.4,310.3 231.7,309.6 232,312.1 232.3,311.7 232.6,311.4 232.9,310.8 233.2,313 233.5,309.9 233.8,311.3 234.1,309.8 234.4,311.1 234.7,310.9 235,313.5 235.3,312.3 235.6,314.1 235.9,312.4 236.2,312.6 236.5,310.9 236.8,314.6 237.1,306.5 237.4,312.5 237.7,309.9 238,310.6 238.3,317.8 238.6,313.8 238.9,310.8 239.2,318.4 239.5,312.1 239.8,315.4 240.1,314.6 240.4,313.1 240.7,317.1 241,312.9 241.3,314.3 241.6,314.8 241.9,311.8 242.2,306.2 242.5,312.3 242.8,311.7 243.1,313.3 243.4,314.8 243.5,313.5 243.7,310.4 244,313.5 244.3,311.6 244.6,313.8 244.9,309 245.2,316.9 245.5,312.4 245.8,311.9 246.1,312.7 246.4,315.3 246.5,314.4 246.7,314.2 247,313.8 247.3,316.7 247.6,316.3 247.9,313.1 248.2,312.4 248.5,315.1 248.8,315.6 249.1,315.7 249.4,309.4 249.7,313.8 250,314.4 250.3,311.9 250.6,309.7 250.9,311.9 251.2,316.4 251.5,313.8 251.8,314.7 252.1,314.5 252.4,315.9 252.7,314.4 253,316.2 253.3,313 253.6,313.5 253.9,316.2 254.2,315.7 254.5,313.1 254.8,310.4 255.1,310.4 255.4,311.2 255.6,314.9 255.7,312.2 256,312.7 256.3,312 256.6,314 256.9,312.2 257.2,312.5 257.5,306.3 257.8,310.1 258.1,311.5 258.4,311.8 258.5,313.4 258.7,311.4 259,312.3 259.3,312.1 259.6,309.9 259.9,310.5 260,313.3 260.2,309.8 260.5,312 260.8,315 261.1,317.2 261.4,315.5 261.7,314.4 262,314 262.3,313 262.6,316 262.8,314.6 262.9,313.5 263.2,312.8 263.5,315.6 263.8,314.3 264.1,312 264.4,313.9 264.7,314.5 265,318.2 265.3,311.7 265.6,313 265.9,314 266.2,314.6 266.5,316.6 266.8,314.1 267.1,314 267.4,311.7 267.7,316 268,311.1 268.3,313.4 268.6,311.2 268.9,315.5 269.2,312.9 269.5,311 269.8,313 270.1,316.3 270.4,314.1 270.7,312 271,316.4 271.3,316.3 271.6,313.3 271.9,315.7 272.1,313.6 272.2,316.5 272.5,317.8 272.8,316.1 273.1,312 273.4,316.3 273.7,314.6 274,314.6 274.3,316.5 274.6,313 274.8,314.4 274.9,314.6 275.2,318.4 275.5,318.5 275.8,319.8 276.1,315.2 276.3,314.3 276.4,313.8 276.7,312.2 277,315.1 277.3,315.2 277.6,313.5 277.9,312 278.2,316.6 278.5,314 278.8,315.5 279.1,315.6 279.4,313.7 279.7,316.4 280,316.2 280.3,313.5 280.6,314.6 280.9,314.1 281.2,314 281.5,312.8 281.8,313.6 282.1,311.2 282.4,311.9 282.7,310.4 283,311.1 283.3,312.3 283.6,314 283.9,313.2 284.2,314.7 284.5,308.3 284.8,314.1 285.1,312.9 285.4,310.7 285.7,315.8 286,314.9 286.3,313.9 286.6,314.6 286.9,314.9 287.2,313.2 287.5,310.3 287.8,311 288.1,311.9 288.4,312.3 288.7,315.2 288.8,312.9 289,311.2 289.3,314 289.6,312.1 289.9,312.8 290.2,313.6 290.5,314 290.8,313.7 291.1,314.3 291.4,311.5 291.5,313.3 291.7,312 292,312.6 292.3,313.3 292.6,308.6 292.9,315.6 293.2,310.2 293.5,311.9 293.8,312.8 294.1,313.7 294.4,313 294.7,314.9 295,315.9 295.3,313.7 295.6,316.9 295.9,312 296.2,311.8 296.5,320.9 296.8,317 297.1,313.2 297.4,313 297.7,313 298,312.5 298.3,312.3 298.6,312.1 298.9,310.7 299.2,314.3 299.5,312.6 299.8,317.3 300.1,314.6 300.4,316.9 300.7,311.8 301,310.6 301.3,313.8 301.6,317.7 301.9,315 302.2,315.1 302.5,314.4 302.8,312.7 303.1,312.8 303.4,319.9 303.7,312 304,315.3 304.3,315.6 304.6,312 304.9,315.2 305.2,317.4 305.5,317 305.8,313.7 306.1,312.6 306.4,311.2 306.7,314.5 307,315.4 307.3,311.4 307.6,315.5 307.9,312 308.2,314.3 308.5,314 308.8,314.6 309.1,313.5 309.4,315.2 309.7,315 310,314.3 310.3,315.1 310.6,313.7 310.9,313.9 311.2,314.5 311.5,314 311.8,313.9 312.1,310.3 312.4,313.8 312.7,315.3 313,315.1 313.3,313.1 313.6,314.7 313.9,315 314.2,314.5 314.5,313.9 314.8,313.6 315.1,313.4 315.4,317 315.7,315.8 316,318.6 316.3,312.3 316.6,311.8 316.9,311.4 317.2,313.6 317.5,311.3 317.8,313.7 318.1,313.8 318.4,316.6 318.7,315.4 319,315.4 319.3,312.6 319.6,310.9 319.9,314.8 320.2,312.8 320.5,313 320.8,315.2 321.1,316.7 321.4,314.1 321.7,315.6 322,313 322.3,312.7 322.6,312.2 322.9,312.2 323.2,311.1 323.5,313.8 323.8,310.9 324.1,315.7 324.4,312.6 324.7,312.5 325,314.4 325.3,316.2 325.6,311.8 325.9,314 326.2,310.9 326.5,310.7 326.8,312.3 327.1,312.7 327.4,310.7 327.7,311.9 328,314.1 328.3,312.1 328.6,311 328.9,311.9 329.2,312.1 329.5,312.8 329.8,313 330.1,314.8 330.4,316 330.7,311.1 331,314.7 331.3,313.1 331.6,316.3 331.9,313 332.2,315 332.5,308.4 332.8,315.8 333.1,315.2 333.4,312.2 333.7,311.7 334,318.3 334.3,313.4 334.6,312.1 334.9,316.3 335.2,312.4 335.5,314.9 335.8,315.9 336.1,314.9" fill="none" stroke="#111" stroke-width="1.35" stroke-linejoin="round" />
<path d="M200.5,340.7 200.8,342.1 201.1,344.5 201.4,345.1 201.7,344 202,343.9 202.3,342 202.6,346.1 202.9,344.3 203.2,345.9 203.5,342.5 203.8,341.7 204.1,344.8 204.4,343.7 204.7,342.4 205,345.5 205.3,346.8 205.6,343.6 205.9,344.5 206.2,345.6 206.5,342.1 206.8,344.3 207.1,348 207.4,344.3 207.7,345.1 208,341.5 208.3,345.3 208.6,345.3 208.9,344.2 209.2,344.9 209.5,348.2 209.8,345.1 210.1,345.8 210.4,342.9 210.7,341.2 211,347.1 211.3,347.3 211.6,347.4 211.9,347.1 212.2,347.1 212.5,345.5 212.8,343.3 213.1,347.5 213.4,347.7 213.7,348.5 214,343.5 214.3,343 214.6,348.3 214.9,348.8 215.2,345.5 215.5,343.7 215.8,343.9 216.1,345.9 216.4,345 216.7,345.4 217,346.6 217.3,342.4 217.6,345.5 217.9,347.5 218.2,345.9 218.5,348.2 218.8,345.6 219.1,343.5 219.4,348.1 219.7,343.8 220,342.2 220.3,345.6 220.6,347.7 220.9,347.4 221.2,346.4 221.5,347.9 221.8,347.6 222.1,345.9 222.4,345.7 222.7,343.9 223,347 223.3,340.9 223.6,342 223.9,342.9 224.2,345.4 224.5,341.1 224.8,345 225.1,340.9 225.4,341.9 225.7,345.9 226,345.1 226.3,341 226.6,342.5 226.9,343.8 227.2,342.9 227.5,343.2 227.8,345.1 228.1,344.7 228.4,346 228.7,346 229,344.6 229.3,347.5 229.6,344.2 229.9,345.1 230.2,344.1 230.5,344.2 230.8,344 231.1,344.9 231.4,344.4 231.7,346.2 232,345.2 232.3,347.9 232.6,347.1 232.9,346 233.2,347 233.5,346.4 233.8,348.7 234.1,344.8 234.4,348.1 234.7,346.3 235,346.9 235.3,345.1 235.6,347.4 235.9,348.2 236.2,349.4 236.5,345.6 236.8,347.4 237.1,344.1 237.4,342.8 237.7,349.3 238,347.3 238.3,344.3 238.6,342.6 238.9,344.3 239.2,344.3 239.5,343.8 239.8,343.3 240.1,341.7 240.4,343.4 240.7,347.3 241,345.8 241.3,344.9 241.6,346.1 241.9,345 242.2,345.3 242.5,345.7 242.8,343.1 243.1,345.1 243.4,346.2 243.7,343.9 244,338.9 244.3,330.4 244.6,329.9 244.7,328.9 244.9,331.2 245.2,339.6 245.5,338.5 245.8,343.9 246.1,348.2 246.4,351.1 246.7,349.3 247,358.8 247.3,360.1 247.5,360.9 247.6,358.3 247.9,358.2 248.2,350.9 248.5,348.1 248.8,345.3 249.1,344.3 249.4,346.9 249.7,346.5 250,343.1 250.3,349.1 250.6,346.4 250.9,345 251.2,347.9 251.5,346.9 251.8,347.5 252.1,344.6 252.4,346 252.7,343.6 253,343.6 253.3,345.1 253.6,346.3 253.9,345.2 254.2,346 254.5,348.3 254.8,343.8 255.1,345.7 255.4,344.8 255.7,349.1 256,344.6 256.3,342.5 256.6,341.4 256.9,341.7 257.2,335.4 257.4,333.2 257.5,333.6 257.8,337.3 258.1,338.3 258.4,342.9 258.7,343.7 259,348 259.3,348.4 259.6,349 259.9,353.9 260,353.5 260.2,353.8 260.5,348.3 260.8,344.3 261.1,338 261.3,339.4 261.4,337 261.7,343.7 262,343.7 262.3,343.8 262.6,346.5 262.9,352.2 263.2,354.9 263.5,353.3 263.8,359.5 264.1,357.8 264.4,362.9 264.7,357.2 265,348.6 265.3,345.5 265.6,342.3 265.9,346.4 266.2,343.8 266.5,344.5 266.8,345.2 267.1,342.5 267.4,348.1 267.7,344.9 268,345.2 268.3,346.8 268.6,342.5 268.9,347.9 269.2,346.1 269.5,345.9 269.8,349.8 270.1,348.3 270.4,347.4 270.7,344.4 271,343.7 271.3,344.8 271.6,345.8 271.9,350.3 272.2,343.6 272.5,339.8 272.8,331.6 273.1,326.5 273.2,325.2 273.4,328 273.7,330.8 274,337.4 274.3,339.3 274.6,344.8 274.9,344.2 275.2,351.5 275.5,352.9 275.8,357.5 276,358.6 276.1,356.6 276.4,354.9 276.7,348 277,344.6 277.3,335.3 277.5,336.2 277.6,334.5 277.9,334.9 278.2,345.6 278.5,345.3 278.8,346.5 279.1,346.2 279.4,351.9 279.7,352.3 280,356.8 280.3,356.8 280.4,359.6 280.6,354.6 280.9,357.9 281.2,352.9 281.5,342.7 281.8,344.7 282.1,346.5 282.4,340.4 282.7,342.7 283,342.4 283.3,345.5 283.6,343.3 283.9,343.4 284.2,347.5 284.5,343.6 284.8,345.8 285.1,343 285.4,343.1 285.7,346.8 286,346.6 286.3,345.6 286.6,343.9 286.9,345.8 287.2,345.1 287.5,343.9 287.8,345.1 288.1,344.1 288.4,346.2 288.7,344.6 289,341.7 289.3,332.8 289.6,330.1 289.9,333.6 290.2,336.1 290.5,341.3 290.8,342 291.1,349.5 291.4,348.8 291.7,352.5 292,350.2 292.3,355.9 292.4,358.3 292.6,355.3 292.9,351.5 293.2,350.6 293.5,346.1 293.8,345.6 294.1,340.3 294.4,345.2 294.7,348.9 295,342.8 295.3,339.4 295.6,345.9 295.9,338.1 296.2,344.7 296.5,342.3 296.8,345.5 297.1,345.3 297.4,347.1 297.7,347 298,348.8 298.3,342.5 298.6,346.1 298.9,343.4 299.2,343.6 299.5,344.7 299.8,342.7 300.1,343 300.4,343.4 300.7,342.9 301,342.9 301.3,345 301.6,346 301.9,345.1 302.2,343.3 302.5,341.3 302.8,340.9 303.1,343.3 303.4,342.3 303.7,344.5 304,343.1 304.3,344.1 304.6,343.5 304.9,344.8 305.2,344.5 305.5,341.6 305.8,347.8 306.1,346 306.4,347 306.7,343.9 307,343.1 307.3,347.2 307.6,351.6 307.9,345.5 308.2,345.2 308.5,349.8 308.8,347.1 309.1,346.3 309.4,350.2 309.7,344.4 310,345.1 310.3,345.6 310.6,347.4 310.9,346.8 311.2,346.3 311.5,344 311.8,347.3 312.1,343.2 312.4,345.1 312.7,349.9 313,342.3 313.3,344.4 313.6,345.7 313.9,344.1 314.2,348.3 314.5,344.2 314.8,349.5 315.1,347.1 315.4,342.2 315.7,342.6 316,345.5 316.3,346.8 316.6,343.7 316.9,345.4 317.2,345 317.5,343.8 317.8,347 318.1,344.2 318.4,349.7 318.7,343.3 319,348.8 319.3,346.9 319.6,346.6 319.9,343.9 320.2,344 320.5,345.4 320.8,345.4 321.1,345.7 321.4,347.4 321.7,350.6 322,351.1 322.3,350.7 322.6,346.2 322.9,346.3 323.2,346.2 323.5,345.2 323.8,345.9 324.1,347.5 324.4,348.3 324.7,348.8 325,343.2 325.3,344 325.6,347 325.9,344.7 326.2,342.8 326.5,340.4 326.8,344.7 327.1,343.2 327.4,341.2 327.7,346.6 328,344 328.3,342.9 328.6,344 328.9,338.2 329.2,340.9 329.5,341.8 329.8,344.4 330.1,341.1 330.4,341.9 330.7,343.9 331,343.9 331.3,345.4 331.6,342.3 331.9,340.4 332.2,340.2 332.5,340.7 332.8,340.1 333.1,343.7 333.4,343.5 333.7,340.6 334,342.4 334.3,345.3 334.6,343 334.9,342.4 335.2,342.5 335.5,343.7 335.8,344.6 336.1,343.2" fill="none" stroke="#111" stroke-width="1.35" stroke-linejoin="round" />
<path d="M200.5,394 200.8,393.8 201.1,392.6 201.4,393 201.7,390.9 202,395 202.3,396.8 202.6,391.9 202.9,393.9 203.2,393 203.5,388.6 203.8,390.6 204.1,392 204.4,391.8 204.7,393.6 205,391.6 205.3,395.1 205.6,395.2 205.9,395.3 206.2,391.6 206.5,392 206.8,395.6 207.1,392 207.4,394.7 207.7,391.8 208,394.3 208.3,391.9 208.6,393.9 208.9,394.1 209.2,393.6 209.5,393.7 209.8,395.5 210.1,396.5 210.4,391 210.7,395.1 211,397.2 211.3,398.1 211.6,399.1 211.9,394.9 212.2,391.1 212.5,397.2 212.8,394.6 213.1,397.4 213.4,391.9 213.7,393 214,392.9 214.3,391.1 214.6,390.8 214.9,391.9 215.2,395.3 215.5,397.4 215.8,397 216.1,398.2 216.4,391.4 216.7,394.8 217,393.8 217.3,393.4 217.6,390 217.9,395 218.2,391.8 218.5,393.4 218.8,393.8 219.1,397.2 219.4,391.9 219.7,395.1 220,394.4 220.3,393.3 220.6,393.8 220.9,391.5 221.2,394.9 221.5,393.4 221.8,393 222.1,393.5 222.4,392.2 222.7,393.7 223,390.8 223.3,393.9 223.6,395.5 223.9,393.2 224.2,391 224.5,393.9 224.8,394.3 225.1,394.1 225.4,392.4 225.7,392.8 226,391.9 226.3,396 226.6,390 226.9,391.8 227.2,394.2 227.5,390 227.8,391.7 228.1,389.1 228.4,394 228.7,389.1 229,392.1 229.3,396.5 229.6,391.6 229.9,393.5 230.2,395.1 230.5,393.3 230.8,396.9 231.1,392.6 231.4,394.1 231.7,394.2 232,391.6 232.3,394 232.6,395 232.9,396 233.2,394.3 233.5,392.7 233.8,395.7 234.1,396.8 234.4,392.9 234.7,394.4 235,394.6 235.3,390.3 235.6,397.2 235.9,394.8 236.2,398.3 236.5,395.2 236.8,393.4 237.1,392.1 237.4,396.8 237.7,392.8 238,392.8 238.3,394.3 238.6,389.7 238.9,394.1 239.2,395.7 239.5,392.8 239.8,397.1 240.1,391.2 240.4,392.2 240.7,394.6 241,392.8 241.3,392.7 241.6,390 241.9,394.8 242.2,396.2 242.5,395.7 242.8,386.4 243.1,382.7 243.4,374.2 243.5,372 243.7,375.9 244,381 244.3,381.6 244.6,388.3 244.9,391.7 245.2,394.7 245.5,403.6 245.8,407 246.1,405 246.4,414.3 246.5,415.3 246.7,412.8 247,407.6 247.3,403.5 247.6,396.9 247.9,394.3 248.2,394.2 248.5,393 248.8,397 249.1,396.9 249.4,392.6 249.7,395.7 250,392.7 250.3,394.6 250.6,397.7 250.9,393.9 251.2,396.7 251.5,393.9 251.8,391.8 252.1,390 252.4,394 252.7,391.8 253,392 253.3,390.9 253.6,397.1 253.9,393.5 254.2,392.3 254.5,391.6 254.8,388.7 255.1,380.5 255.4,374.9 255.6,374.2 255.7,374.8 256,378.6 256.3,380.7 256.6,381.9 256.9,384.5 257.2,391.4 257.5,395.5 257.8,398.4 258.1,398.5 258.4,403 258.5,404.8 258.7,401.9 259,397.8 259.3,391.9 259.6,387.3 259.9,382.5 260,379.5 260.2,382 260.5,387.4 260.8,391.1 261.1,392.4 261.4,400 261.7,403.2 262,408.2 262.3,413.4 262.6,419.4 262.8,418.6 262.9,418.3 263.2,409.3 263.5,406.3 263.8,398.3 264.1,392.2 264.4,393.6 264.7,392.4 265,392 265.3,396.3 265.6,394 265.9,395.4 266.2,390.9 266.5,393.5 266.8,391.9 267.1,389.5 267.4,392.9 267.7,391.9 268,391.6 268.3,393 268.6,390 268.9,390.6 269.2,390.4 269.5,392 269.8,392.4 270.1,392.5 270.4,392.1 270.7,393.9 271,390.3 271.3,383.1 271.6,377.7 271.9,371.7 272.1,368.2 272.2,367.1 272.5,371.6 272.8,373.5 273.1,382.6 273.4,385.4 273.7,389.6 274,394.9 274.3,400.3 274.6,407 274.8,410.2 274.9,405.4 275.2,399.8 275.5,395.6 275.8,385.5 276.1,378.3 276.3,377.4 276.4,377.4 276.7,380.7 277,383.7 277.3,391.2 277.6,392.7 277.9,399.7 278.2,403.5 278.5,405.1 278.8,410.1 279.1,410 279.4,413.9 279.7,410.1 280,404.7 280.3,399.2 280.6,393.7 280.9,393.7 281.2,393.5 281.5,394.5 281.8,395.3 282.1,394.6 282.4,391.9 282.7,393.9 283,390.2 283.3,393.7 283.6,390.8 283.9,395.3 284.2,394.4 284.5,392.2 284.8,392.2 285.1,393.3 285.4,389 285.7,392.7 286,391.9 286.3,393.3 286.6,389.3 286.9,390.8 287.2,391.8 287.5,395.8 287.8,390.5 288.1,386.7 288.4,378.9 288.7,372.1 288.8,372.8 289,375.1 289.3,378.8 289.6,384.8 289.9,390.3 290.2,396.5 290.5,400.3 290.8,406 291.1,407.1 291.4,413.6 291.5,415.9 291.7,412.4 292,409.4 292.3,407.6 292.6,393.9 292.9,392.1 293.2,396.5 293.5,395.1 293.8,392.9 294.1,393.7 294.4,394.4 294.7,393.4 295,392.8 295.3,393.7 295.6,392.5 295.9,393 296.2,393.8 296.5,392.3 296.8,395.4 297.1,390.2 297.4,395.8 297.7,392.7 298,392.2 298.3,392.1 298.6,392.4 298.9,390.1 299.2,394 299.5,391.9 299.8,391.4 300.1,392.8 300.4,393.4 300.7,390.4 301,394.4 301.3,394.5 301.6,394 301.9,393.8 302.2,393.4 302.5,394.2 302.8,393.1 303.1,393.4 303.4,393.3 303.7,391.5 304,395.7 304.3,391.4 304.6,394.7 304.9,393 305.2,393.7 305.5,394.4 305.8,397.4 306.1,391 306.4,395.6 306.7,395.9 307,392.6 307.3,394.8 307.6,391.2 307.9,391.5 308.2,392.9 308.5,393.6 308.8,393 309.1,396.9 309.4,394.3 309.7,394.5 310,395.4 310.3,394.1 310.6,397.2 310.9,393.1 311.2,392.1 311.5,396.8 311.8,394 312.1,391.5 312.4,393.4 312.7,396.2 313,395.7 313.3,392.2 313.6,390.1 313.9,395.1 314.2,392.9 314.5,394.3 314.8,393.1 315.1,392.3 315.4,392.9 315.7,394.3 316,389 316.3,392.8 316.6,392.7 316.9,390.1 317.2,392 317.5,392.2 317.8,390.2 318.1,393.9 318.4,390.3 318.7,389.9 319,390.3 319.3,391.6 319.6,391.6 319.9,394.2 320.2,391.6 320.5,391.1 320.8,390.3 321.1,391.6 321.4,392.5 321.7,393.6 322,392.4 322.3,392.2 322.6,390.5 322.9,393 323.2,394.1 323.5,393.4 323.8,393.5 324.1,393.2 324.4,397 324.7,396 325,395.5 325.3,392.5 325.6,393.2 325.9,392.8 326.2,391.3 326.5,395.4 326.8,391.4 327.1,392.9 327.4,395 327.7,391.1 328,396.5 328.3,395.7 328.6,394.3 328.9,393.2 329.2,394 329.5,397.6 329.8,394.7 330.1,393.9 330.4,389.1 330.7,390.7 331,393.1 331.3,395.7 331.6,392.9 331.9,395.6 332.2,393.2 332.5,393 332.8,394.2 333.1,393 333.4,394.2 333.7,394.2 334,390.5 334.3,392.4 334.6,394.2 334.9,395.4 335.2,393.1 335.5,392 335.8,391.3 336.1,390.5" fill="none" stroke="#111" stroke-width="1.35" stroke-linejoin="round" />
<path d="M200.5,454.6 200.8,454.1 201.1,455 201.4,454.1 201.7,456.5 202,454.5 202.3,456.3 202.6,454.6 202.9,453.4 203.2,455.5 203.5,454.7 203.8,454.3 204.1,453.6 204.4,452 204.7,452.7 205,452.5 205.3,455.2 205.6,453.3 205.9,451.3 206.2,455 206.5,454.4 206.8,455.9 207.1,451.3 207.4,455.1 207.7,455.2 208,453 208.3,451.8 208.6,452.6 208.9,451.3 209.2,453.1 209.5,453.9 209.8,454.9 210.1,455.7 210.4,455.8 210.7,454.2 211,455.2 211.3,455.2 211.6,454.1 211.9,455.6 212.2,458.4 212.5,457.1 212.8,457.8 213.1,458.9 213.4,455.2 213.7,457.2 214,456.9 214.3,456 214.6,452.6 214.9,455 215.2,453.1 215.5,454.6 215.8,455.5 216.1,453.4 216.4,453.7 216.7,454.6 217,456.6 217.3,455.2 217.6,456.2 217.9,454.7 218.2,454.4 218.5,451.8 218.8,451.7 219.1,453.4 219.4,453.2 219.7,454.3 220,449.6 220.3,452.2 220.6,450.7 220.9,455.3 221.2,454.9 221.5,454.2 221.8,455.7 222.1,455.1 222.4,456.9 222.7,453.2 223,455.2 223.3,453.7 223.6,456 223.9,458.7 224.2,454.6 224.5,453.6 224.8,457.9 225.1,457.3 225.4,455.8 225.7,455.2 226,457.6 226.3,451.2 226.6,452.4 226.9,455 227.2,457.5 227.5,453.6 227.8,450.5 228.1,452.2 228.4,451.1 228.7,455.3 229,453.2 229.3,456.2 229.6,450.2 229.9,453.1 230.2,457.8 230.5,457.6 230.8,453.4 231.1,454.3 231.4,455.2 231.7,453.7 232,451.1 232.3,453.8 232.6,458.1 232.9,455.2 233.2,457.4 233.5,456 233.8,454.3 234.1,455.4 234.4,456.9 234.7,454.4 235,455.7 235.3,453.4 235.6,454.7 235.9,454 236.2,455.5 236.5,453.4 236.8,455.1 237.1,455.2 237.4,455.9 237.7,454.8 238,457.9 238.3,450.1 238.6,456.3 238.9,455 239.2,455.8 239.5,456.1 239.8,454.5 240.1,455.7 240.4,455.9 240.7,457.7 241,457 241.3,457.3 241.6,451.5 241.9,457.2 242.2,457 242.5,454.9 242.8,452.6 243.1,458.9 243.4,457.9 243.7,454.8 244,450.4 244.3,446.6 244.6,440 244.9,430.3 245.2,434.4 245.5,441.9 245.8,446.5 246.1,453.8 246.4,459.4 246.7,464.1 247,470.9 247.3,476.8 247.6,483.9 247.9,476.9 248.2,468.1 248.5,462.9 248.8,457 249.1,454.5 249.4,454.7 249.7,455.7 250,457 250.3,454.1 250.6,451.1 250.9,457.5 251.2,458.5 251.5,456.6 251.8,456.7 252.1,457.6 252.4,457.4 252.7,453.5 253,453.2 253.3,451.9 253.6,453.5 253.9,455.8 254.2,453.1 254.5,456.5 254.8,455.8 255.1,457.2 255.4,453.2 255.7,453.7 256,454.3 256.3,447.8 256.6,441 256.9,434.2 257,431.5 257.2,434.3 257.5,437.8 257.8,444.7 258.1,446.6 258.4,453.2 258.7,450.5 259,455.4 259.3,460.1 259.6,463.6 259.8,467.9 259.9,466.3 260.2,464.2 260.5,453.1 260.8,448.6 261.1,437.8 261.4,444.4 261.7,446.7 262,450.9 262.3,458 262.6,461.6 262.9,465.1 263.2,470 263.5,474.5 263.8,483.4 264,482.7 264.1,479.2 264.4,473.7 264.7,470.6 265,462 265.3,456.8 265.6,459.8 265.9,457.2 266.2,460.1 266.5,459.3 266.8,458.9 267.1,454.4 267.4,458.9 267.7,459.5 268,457 268.3,459 268.6,457.3 268.9,462.1 269.2,457.5 269.5,457.9 269.8,460 270.1,455.1 270.4,458.3 270.7,458.1 271,459.9 271.3,460.1 271.6,457.9 271.9,459.4 272.2,455.4 272.5,449.2 272.8,443 273.1,435.6 273.4,424.3 273.7,431.9 274,434.8 274.3,440.4 274.6,447.6 274.9,452.2 275.2,456.4 275.5,461.4 275.8,471.2 276,474.2 276.1,473.1 276.4,469.5 276.7,454.5 277,446 277.3,437.5 277.5,434.6 277.6,435.7 277.9,442.3 278.2,442.1 278.5,448.6 278.8,454.4 279.1,458.3 279.4,461.9 279.7,469.6 280,473.3 280.3,480.1 280.4,481.6 280.6,477.2 280.9,465.5 281.2,463.5 281.5,455.4 281.8,453.2 282.1,454.4 282.4,452.3 282.7,453.7 283,454.4 283.3,453.6 283.6,455.5 283.9,451.7 284.2,453.1 284.5,452.6 284.8,457 285.1,454.2 285.4,456.5 285.7,455 286,452.8 286.3,454.6 286.6,455.4 286.9,453.1 287.2,453.4 287.5,452.1 287.8,459 288.1,455.3 288.4,456.6 288.7,457.9 289,448.7 289.3,443.4 289.6,437.7 289.8,428 289.9,430.7 290.2,432.7 290.5,443 290.8,449.4 291.1,456.7 291.4,459.4 291.7,464.8 292,470.1 292.3,478.4 292.6,482.7 292.7,483.5 292.9,478.7 293.2,475.3 293.5,470.8 293.8,456.7 294.1,455.6 294.4,455.2 294.7,454.4 295,457 295.3,453.6 295.6,456.8 295.9,451.4 296.2,454.4 296.5,457.8 296.8,453.1 297.1,451.3 297.4,455.3 297.7,452.8 298,455.2 298.3,455.9 298.6,459.4 298.9,452.6 299.2,455.5 299.5,454.1 299.8,456.9 300.1,456 300.4,452.8 300.7,455.6 301,455.8 301.3,457.8 301.6,454.8 301.9,453.8 302.2,456.1 302.5,455.8 302.8,457.1 303.1,453 303.4,456.4 303.7,455.3 304,452.2 304.3,455.5 304.6,458.2 304.9,457 305.2,456 305.5,452.2 305.8,454.7 306.1,455.2 306.4,452.7 306.7,451.9 307,455.6 307.3,451.7 307.6,453 307.9,453.7 308.2,458.6 308.5,454.2 308.8,452.2 309.1,455.5 309.4,451.2 309.7,455.7 310,457.7 310.3,454.8 310.6,455.1 310.9,454.2 311.2,456 311.5,453.2 311.8,456.6 312.1,455.4 312.4,458.2 312.7,457.6 313,455.4 313.3,457.4 313.6,456.9 313.9,456.6 314.2,455.8 314.5,454.6 314.8,455 315.1,454.8 315.4,456.3 315.7,457.4 316,459.1 316.3,456.9 316.6,457.3 316.9,458.8 317.2,452.2 317.5,458.3 317.8,454.5 318.1,454.1 318.4,455.8 318.7,451.2 319,455.7 319.3,457.3 319.6,452.9 319.9,457.4 320.2,458.7 320.5,457.6 320.8,456.7 321.1,455.4 321.4,454.9 321.7,458 322,454.7 322.3,451.1 322.6,456.3 322.9,455.3 323.2,453.8 323.5,453 323.8,455.9 324.1,456.7 324.4,456.9 324.7,453.4 325,453.8 325.3,459.3 325.6,459.2 325.9,457.7 326.2,457.7 326.5,454.3 326.8,454.9 327.1,451.2 327.4,453.6 327.7,454.4 328,452.6 328.3,456.4 328.6,457.5 328.9,455.3 329.2,453.8 329.5,458.1 329.8,453 330.1,453.1 330.4,455.6 330.7,454.4 331,454.6 331.3,454.1 331.6,452.7 331.9,455.7 332.2,452.3 332.5,452.4 332.8,452.6 333.1,458 333.4,457.7 333.7,453.2 334,455.9 334.3,456 334.6,456 334.9,456.6 335.2,454.5 335.5,455.8 335.8,455.6 336.1,453.6" fill="none" stroke="#111" stroke-width="1.35" stroke-linejoin="round" />
<text x="202.7" y="298.5" font-size="11.4" fill="#231815">DMPO/DMSO-·O<tspan font-size="7" dx="0.6" dy="3.6">2</tspan><tspan font-size="7" dx="0.8" dy="-10">-</tspan></text>
<text x="330.4" y="306.2" font-size="10" text-anchor="end" font-weight="normal" fill="#231815" >0 min</text>
<text x="330.4" y="336.9" font-size="10" text-anchor="end" font-weight="normal" fill="#231815" >1 min</text>
<text x="330.4" y="383.5" font-size="10" text-anchor="end" font-weight="normal" fill="#231815" >2 min</text>
<text x="330.4" y="447.2" font-size="10" text-anchor="end" font-weight="normal" fill="#231815" >5 min</text>
<text x="269.7" y="278.1" font-size="17" text-anchor="middle" font-weight="normal" fill="#231815" >air</text>
<text x="179.5" y="291.6" font-size="22" text-anchor="start" font-weight="bold" fill="#231815" >e</text>
<text x="185.5" y="394.2" font-size="11.6" text-anchor="middle" font-weight="normal" fill="#231815" transform="rotate(-90 185.5 394.2)">Intensity (a.u.)</text>
<path d="M368.7,489.3v2.2M385.8,489.3v1.5M402.9,489.3v2.2M420,489.3v1.5M437.1,489.3v2.2M454.3,489.3v1.5M471.4,489.3v2.2M488.5,489.3v1.5M505.6,489.3v2.2" stroke="#555" stroke-width="0.9" fill="none"/>
<path d="M368.7,489.3V285.2H505.6V489.3" stroke="#8c8c8c" stroke-width="1" fill="none"/>
<path d="M368.2,489.3H506.1" stroke="#555" stroke-width="1" fill="none"/>
<text x="368.7" y="502" font-size="10.4" text-anchor="middle" font-weight="normal" fill="#231815" textLength="21.6" lengthAdjust="spacingAndGlyphs" >3420</text>
<text x="402.9" y="502" font-size="10.4" text-anchor="middle" font-weight="normal" fill="#231815" textLength="21.6" lengthAdjust="spacingAndGlyphs" >3450</text>
<text x="437.1" y="502" font-size="10.4" text-anchor="middle" font-weight="normal" fill="#231815" textLength="21.6" lengthAdjust="spacingAndGlyphs" >3480</text>
<text x="471.4" y="502" font-size="10.4" text-anchor="middle" font-weight="normal" fill="#231815" textLength="21.6" lengthAdjust="spacingAndGlyphs" >3510</text>
<text x="505.6" y="502" font-size="10.4" text-anchor="middle" font-weight="normal" fill="#231815" textLength="21.6" lengthAdjust="spacingAndGlyphs" >3540</text>
<text x="379.9" y="516.9" font-size="11.3" fill="#231815">Magnetic Field <tspan font-size="8" dy="0.5">(</tspan><tspan dy="-0.5">*10</tspan><tspan font-size="7" dy="-4.5">-4</tspan><tspan dy="4.5"> T</tspan><tspan font-size="8" dy="0.5">)</tspan></text>
<path d="M369.3,312.2 369.6,312.4 369.9,312.8 370.2,314.2 370.5,315.3 370.8,315.2 371.1,315.3 371.4,315.3 371.7,316.7 372,312.9 372.3,315 372.6,318.4 372.9,317.3 373.2,317.5 373.5,315.8 373.8,314.4 374.1,317.4 374.4,315.4 374.7,316.3 375,314 375.3,313.5 375.6,314.9 375.9,314.5 376.2,315.5 376.5,316.2 376.8,317.3 377.1,315.5 377.4,316 377.7,316.1 378,315.4 378.3,315.1 378.6,316.4 378.9,315.7 379.2,313.3 379.5,315.2 379.8,312.9 380.1,315.9 380.4,315.9 380.7,314.4 381,313.4 381.3,315.3 381.6,313.6 381.9,313.1 382.2,312.7 382.5,314.4 382.8,314.5 383.1,316.6 383.4,314.3 383.7,314 384,312.3 384.3,316.1 384.6,315.6 384.9,315.8 385.2,313.3 385.5,318 385.8,316.6 386.1,312.3 386.4,314.2 386.7,316.9 387,315.1 387.3,313.5 387.6,313.9 387.9,314.8 388.2,315.3 388.5,312.8 388.8,314 389.1,312.7 389.4,313.4 389.7,314.7 390,311.9 390.3,314.7 390.6,313.7 390.9,314.9 391.2,314.1 391.5,314.3 391.8,314.7 392.1,313.1 392.4,311.7 392.7,311.3 393,311.6 393.3,313.3 393.6,311.2 393.9,312.6 394.2,310.7 394.5,314.8 394.8,311.5 395.1,314.4 395.4,312.3 395.7,314.4 396,312.9 396.3,314.4 396.6,316.8 396.9,315.6 397.2,315 397.5,315 397.8,318 398.1,316.1 398.4,315.6 398.7,315 399,314.6 399.3,316.1 399.6,317.5 399.9,315.3 400.2,315.7 400.5,314.1 400.8,316 401.1,314.4 401.4,316.3 401.7,314.7 402,315 402.3,314.5 402.6,316.1 402.9,314.9 403.2,315.8 403.5,314.8 403.8,313.9 404.1,310.5 404.4,314.4 404.7,313.5 405,314.2 405.3,312.7 405.6,313.7 405.9,312.9 406.2,313.7 406.5,310.9 406.8,312.2 407.1,316.1 407.4,313.4 407.7,313.8 408,316.8 408.3,315.3 408.6,314.8 408.9,314.9 409.2,313.8 409.5,316.5 409.8,313.1 410.1,313.4 410.4,314 410.7,314.9 411,314.5 411.3,315.4 411.6,313.4 411.9,314.2 412.2,312.1 412.5,315.4 412.8,312.9 413.1,315.6 413.4,315.1 413.7,316.6 414,314.4 414.3,315 414.6,314.2 414.9,313.1 415.2,315.2 415.5,314.8 415.8,313.8 416.1,315 416.4,315.7 416.7,313.2 417,311.6 417.3,310.2 417.4,309.8 417.6,312.4 417.9,312.3 418.2,312.5 418.5,315.7 418.8,315.8 419.1,317.2 419.4,316.1 419.7,313.3 420,314.6 420.3,315.5 420.6,313.3 420.9,313.3 421.2,311.7 421.5,315.1 421.8,314.5 422.1,313.2 422.4,315 422.7,311.3 423,315.6 423.3,314.3 423.6,315.3 423.9,314.2 424.2,312.5 424.5,312.9 424.8,312.4 425.1,312.6 425.4,315.8 425.7,312.8 426,315.6 426.3,313.8 426.6,313.9 426.9,314.2 427.2,312.8 427.5,314.4 427.8,311.1 428.1,312.8 428.4,312.3 428.7,313.3 429,313 429.3,314.2 429.6,311.6 429.9,315.4 430.2,313.5 430.5,314 430.8,314 431.1,313.4 431.4,314.9 431.7,312.7 432,312.6 432.3,313.8 432.6,313 432.9,315.7 433.2,316.7 433.5,315 433.8,314.5 434.1,311 434.4,314.2 434.7,312.4 435,312.8 435.3,310.8 435.6,312.3 435.9,310.4 436.2,310.4 436.5,312 436.8,313.3 437.1,313.9 437.4,312.1 437.7,314.8 438,316.2 438.2,316.8 438.3,317.2 438.6,315.5 438.9,314.7 439.2,313.1 439.5,312.1 439.8,315.5 440.1,312.8 440.4,311.3 440.7,314.6 441,313.8 441.3,313.4 441.6,312.6 441.9,313.5 442.2,314.6 442.5,313.5 442.8,312.7 443.1,313.6 443.4,312 443.7,314.1 444,315.8 444.3,315.5 444.6,314.7 444.9,314.6 445.2,313.9 445.5,314.7 445.8,312.7 446.1,314.3 446.4,313.5 446.7,316.4 447,315.9 447.3,314.2 447.6,315.2 447.9,314.5 448.2,314.9 448.5,315.9 448.8,312.7 449.1,313.2 449.4,316.7 449.7,315.6 450,314.8 450.3,313.9 450.6,314.8 450.9,315.8 451.2,312.8 451.5,314.4 451.8,312.7 452.1,313.9 452.4,312.8 452.7,313 453,312.4 453.3,314.2 453.6,312.2 453.9,313.3 454.2,315.2 454.5,314.1 454.8,313.9 455.1,311.4 455.4,310.1 455.7,310.2 456,309.9 456.3,312 456.6,314.5 456.9,312.7 457.2,315.5 457.5,317.1 457.8,315.8 457.9,316.7 458.1,318.1 458.4,314.9 458.7,314.5 459,315.7 459.3,312.4 459.6,315 459.9,314.6 460.2,317.9 460.5,314.2 460.8,315.5 461.1,314.2 461.4,316.7 461.7,313 462,313 462.3,312.5 462.6,318.9 462.9,314.2 463.2,314.1 463.5,318.4 463.8,315.3 464.1,314.7 464.4,312.9 464.7,315.4 465,313.9 465.3,314.3 465.6,313.9 465.9,315.3 466.2,313.2 466.5,313.1 466.8,315.9 467.1,312.8 467.4,315.3 467.7,314.9 468,313.2 468.3,314.9 468.6,314.4 468.9,314.2 469.2,314.3 469.5,315.3 469.8,315.9 470.1,313.7 470.4,313.6 470.7,314 471,314.9 471.3,313.7 471.6,314.9 471.9,316.5 472.2,314.6 472.5,314.3 472.8,314.1 473.1,315.8 473.4,315.7 473.7,314.3 474,315.2 474.3,314.4 474.6,313 474.9,313.4 475.2,311.3 475.5,313.1 475.8,311 476.1,311.5 476.4,309.8 476.7,313.4 477,313.7 477.3,311.5 477.6,313.6 477.9,313.7 478.2,312.9 478.5,312.5 478.8,314.5 479.1,312.7 479.4,313.6 479.7,313.2 480,313 480.3,313.3 480.6,311.9 480.9,312.4 481.2,313.7 481.5,313 481.8,311.8 482.1,312.1 482.4,311.7 482.7,313.7 483,313 483.3,310.4 483.6,313.2 483.9,311.1 484.2,311.9 484.5,313.5 484.8,314.8 485.1,312.6 485.4,314.3 485.7,314.3 486,315.7 486.3,312 486.6,313.2 486.9,313.4 487.2,313 487.5,313.1 487.8,313.3 488.1,312.8 488.4,313.8 488.7,316.3 489,312.6 489.3,313.1 489.6,313.8 489.9,311.6 490.2,315.5 490.5,317.8 490.8,312.5 491.1,314 491.4,316.4 491.7,314.8 492,313.5 492.3,316 492.6,313.5 492.9,311.3 493.2,312.2 493.5,313.7 493.8,313.4 494.1,314.8 494.4,313.2 494.7,313.9 495,314.9 495.3,315.2 495.6,310.9 495.9,313.3 496.2,314.9 496.5,314.1 496.8,311.7 497.1,311.5 497.4,314.3 497.7,313.8 498,312.7 498.3,314 498.6,314.8 498.9,314.6 499.2,313.2 499.5,314.2 499.8,314.9 500.1,313.5 500.4,312.3 500.7,312.8 501,314.2 501.3,311.7 501.6,315.2 501.9,314.5 502.2,316 502.5,313.2 502.8,314.6 503.1,316.8 503.4,315.8 503.7,312.7 504,314 504.3,314.7 504.6,313.6 504.9,317" fill="none" stroke="#111" stroke-width="1.35" stroke-linejoin="round" />
<path d="M369.3,336.8 369.6,335.1 369.9,334.9 370.2,337.4 370.5,335.7 370.8,335.6 371.1,336.4 371.4,338 371.7,338.1 372,336.3 372.3,334.4 372.6,337.4 372.9,335.5 373.2,335 373.5,339.1 373.8,338.4 374.1,335.5 374.4,336.3 374.7,336.6 375,337.5 375.3,336.8 375.6,338.3 375.9,334.7 376.2,338.9 376.5,339.7 376.8,337.3 377.1,335.9 377.4,337.9 377.7,337.2 378,338.3 378.3,337.2 378.6,338.4 378.9,338.5 379.2,339.2 379.5,338.1 379.8,335 380.1,337.5 380.4,337 380.7,334.5 381,337.7 381.3,337.9 381.6,335.9 381.9,337.8 382.2,336 382.5,335 382.8,337.4 383.1,336.7 383.4,333.8 383.7,337.2 384,336.6 384.3,335.5 384.6,336.2 384.9,336.8 385.2,334.1 385.5,336.8 385.8,335.6 386.1,336.7 386.4,336.4 386.7,337.7 387,334.8 387.3,336.4 387.6,334.3 387.9,337.1 388.2,336.2 388.5,335.1 388.8,335.5 389.1,336.4 389.4,335.9 389.7,337.3 390,335.2 390.3,338.5 390.6,335.4 390.9,334 391.2,334.5 391.5,334.7 391.8,336.2 392.1,335 392.4,336.1 392.7,335.5 393,335.4 393.3,339.3 393.6,333.9 393.9,334.4 394.2,333.8 394.5,336 394.8,334.1 395.1,334.7 395.4,338.2 395.7,337.6 396,335.4 396.3,336.1 396.6,335.2 396.9,336.1 397.2,333.7 397.5,337.6 397.8,337.1 398.1,336.4 398.4,337 398.7,336 399,335.4 399.3,337 399.6,334.8 399.9,334 400.2,334.2 400.5,333.2 400.8,334.3 401.1,335.8 401.4,333.9 401.7,335.2 402,333.9 402.3,336.5 402.6,338.4 402.9,337.3 403.2,335.7 403.5,335.1 403.8,336.4 404.1,335 404.4,337.3 404.7,337 405,335.3 405.3,336.2 405.6,336.3 405.9,334.6 406.2,334.9 406.5,337.2 406.8,336.3 407.1,338.6 407.4,336.6 407.7,336.4 408,338.9 408.3,335.3 408.6,334.9 408.9,336.4 409.2,336.3 409.5,335.4 409.8,337.4 410.1,336.2 410.4,336.9 410.7,339.2 411,338.5 411.3,338.1 411.6,336.5 411.9,337.8 412.2,336.4 412.5,338.4 412.8,339.4 413.1,335.2 413.4,334.8 413.7,337.5 414,338.1 414.3,335.9 414.6,338.5 414.9,337.3 415.2,338.6 415.5,336.4 415.8,336.5 416.1,337.2 416.4,337.7 416.7,335.1 417,331.1 417.3,325.1 417.4,325.4 417.6,325.9 417.9,332 418.2,334.4 418.5,337.9 418.8,341.2 419.1,344.3 419.4,345 419.7,339.6 420,337.6 420.3,336.4 420.6,335.1 420.9,335.7 421.2,334.5 421.5,335.6 421.8,336.8 422.1,335.6 422.4,334.4 422.7,335.1 423,335.3 423.3,335.3 423.6,336.1 423.9,336.1 424.2,337.9 424.5,335.8 424.8,334.5 425.1,336 425.4,336.7 425.7,334.8 426,336.1 426.3,335.9 426.6,335.2 426.9,334.8 427.2,335.6 427.5,336.5 427.8,333.5 428.1,335.7 428.4,336.7 428.7,335.6 429,334.4 429.3,337.8 429.6,334.5 429.9,336.3 430.2,333.5 430.5,335.2 430.8,335.9 431.1,334.2 431.4,334.1 431.7,336 432,335.6 432.3,336.8 432.6,335 432.9,337.8 433.2,336 433.5,338.3 433.8,335.1 434.1,338.6 434.4,337.4 434.7,335.9 435,336.7 435.3,335.9 435.6,333.8 435.9,330.3 436.2,327 436.5,329.2 436.8,331.7 437.1,334.7 437.4,338.8 437.7,340.3 438,344 438.2,345.9 438.3,345.3 438.6,343.7 438.9,342.4 439.2,342.3 439.5,335.9 439.8,337 440.1,334.3 440.4,339.2 440.7,336.1 441,338.1 441.3,336.9 441.6,337.8 441.9,336.2 442.2,336.7 442.5,335.6 442.8,336.4 443.1,335.6 443.4,334.9 443.7,335.6 444,336 444.3,334.7 444.6,336 444.9,335.5 445.2,336.2 445.5,336.9 445.8,339.8 446.1,335 446.4,337.1 446.7,334.8 447,333.3 447.3,336.7 447.6,334.1 447.9,335.3 448.2,334.4 448.5,336.5 448.8,335.1 449.1,335.2 449.4,333.9 449.7,333.1 450,335.3 450.3,336 450.6,333.2 450.9,335.9 451.2,335.8 451.5,335.8 451.8,335.3 452.1,335 452.4,336.6 452.7,336.3 453,333.6 453.3,333.8 453.6,335.5 453.9,335.6 454.2,336.3 454.5,335.1 454.8,336.3 455.1,332.7 455.4,330.6 455.7,327.5 456,330 456.3,332.6 456.6,336 456.9,338.2 457.2,340.7 457.5,344.3 457.8,347.1 457.9,347.2 458.1,344.6 458.4,341.8 458.7,340.2 459,338 459.3,336 459.6,333.6 459.9,334.9 460.2,337.2 460.5,336.6 460.8,337.1 461.1,337.1 461.4,338.5 461.7,336.7 462,338.5 462.3,337.7 462.6,335.2 462.9,336 463.2,338.2 463.5,338.1 463.8,337.7 464.1,338.8 464.4,338.1 464.7,337.3 465,338.2 465.3,336 465.6,337 465.9,337.3 466.2,334.7 466.5,336 466.8,337 467.1,334.7 467.4,335.3 467.7,337.7 468,336 468.3,336.8 468.6,337.7 468.9,333.9 469.2,334 469.5,337.1 469.8,335.2 470.1,337.8 470.4,334.4 470.7,335.7 471,336.4 471.3,334.9 471.6,336.3 471.9,336.2 472.2,334.6 472.5,336.1 472.8,334.8 473.1,336.1 473.4,335.2 473.7,335.5 474,335.2 474.3,336.8 474.6,333.5 474.9,336 475.2,333.8 475.5,336.8 475.8,336.6 476.1,336.6 476.4,334.8 476.7,336.8 477,335.9 477.3,337.9 477.6,336.7 477.9,335.8 478.2,336.3 478.5,338.4 478.8,335.4 479.1,337.2 479.4,333.7 479.7,336.3 480,333.2 480.3,335.1 480.6,335.4 480.9,336.6 481.2,336.2 481.5,335.8 481.8,339.1 482.1,335.6 482.4,338 482.7,336.8 483,339.8 483.3,335.8 483.6,335.7 483.9,336.3 484.2,336.4 484.5,337.3 484.8,337.1 485.1,335.7 485.4,337.6 485.7,336.5 486,336.1 486.3,337.3 486.6,336.9 486.9,336.6 487.2,337.5 487.5,334 487.8,337.5 488.1,334.6 488.4,335.3 488.7,339 489,336.3 489.3,335.3 489.6,335.7 489.9,338.1 490.2,336.4 490.5,338 490.8,337.9 491.1,337.1 491.4,336.7 491.7,334.9 492,336.4 492.3,335.5 492.6,338.4 492.9,338.4 493.2,337.4 493.5,335 493.8,338.6 494.1,339 494.4,337.6 494.7,336.2 495,339.8 495.3,337.9 495.6,339.2 495.9,335.9 496.2,336.9 496.5,337.1 496.8,337.2 497.1,337.3 497.4,336.7 497.7,337.7 498,337.9 498.3,338.2 498.6,336.4 498.9,337.3 499.2,335 499.5,338.6 499.8,335.1 500.1,335.1 500.4,334.3 500.7,336 501,337.4 501.3,336.7 501.6,334 501.9,335.7 502.2,335.5 502.5,335.8 502.8,334.9 503.1,335.3 503.4,336.8 503.7,335.3 504,333.5 504.3,333.4 504.6,335.4 504.9,335.9" fill="none" stroke="#111" stroke-width="1.35" stroke-linejoin="round" />
<path d="M369.3,378.2 369.6,377.8 369.9,377.4 370.2,376.7 370.5,379.9 370.8,377.4 371.1,380.9 371.4,378.7 371.7,380.2 372,381.4 372.3,378.4 372.6,379.7 372.9,378.6 373.2,381.8 373.5,381.4 373.8,380.2 374.1,380.9 374.4,379.7 374.7,380.3 375,379.8 375.3,380.9 375.6,377.7 375.9,379.4 376.2,380.6 376.5,378.5 376.8,379.1 377.1,379.1 377.4,379.3 377.7,380.4 378,379.9 378.3,382.3 378.6,381.6 378.9,381.1 379.2,379.6 379.5,378.2 379.8,379.6 380.1,379.5 380.4,377.9 380.7,379.6 381,378.3 381.3,378.5 381.6,380.8 381.9,379 382.2,378.9 382.5,380.7 382.8,380.4 383.1,381 383.4,377.7 383.7,376.6 384,378.3 384.3,376.7 384.6,380.7 384.9,377.2 385.2,376.4 385.5,377 385.8,380.4 386.1,377.9 386.4,379.4 386.7,377.4 387,379.8 387.3,379.4 387.6,380.3 387.9,379 388.2,379.6 388.5,378 388.8,378.3 389.1,378.6 389.4,378.6 389.7,379.4 390,379.1 390.3,378.3 390.6,379 390.9,379 391.2,379.7 391.5,379.9 391.8,381 392.1,382.5 392.4,379.4 392.7,379.5 393,381.1 393.3,377.3 393.6,380.7 393.9,378.1 394.2,379.2 394.5,378.9 394.8,377.7 395.1,377.9 395.4,378.9 395.7,380.7 396,381.1 396.3,379.3 396.6,377.9 396.9,379.2 397.2,380.1 397.5,379.3 397.8,378.8 398.1,377.5 398.4,380.3 398.7,378.1 399,378.5 399.3,379.8 399.6,379.9 399.9,376.9 400.2,378 400.5,378.9 400.8,378.6 401.1,377.8 401.4,378.9 401.7,377 402,379.6 402.3,379.9 402.6,378.9 402.9,379.6 403.2,378.6 403.5,376.6 403.8,376 404.1,376.9 404.4,377.7 404.7,379.1 405,379.6 405.3,377.8 405.6,378.3 405.9,379.2 406.2,379.2 406.5,376.6 406.8,377 407.1,378.3 407.4,378.3 407.7,376.9 408,378.1 408.3,378.3 408.6,380.4 408.9,380.5 409.2,380.7 409.5,380.8 409.8,378.2 410.1,377.8 410.4,379.5 410.7,378.1 411,378.3 411.3,379.3 411.6,381 411.9,377 412.2,377.2 412.5,379.6 412.8,376.4 413.1,378.7 413.4,379.9 413.7,379.7 414,381.7 414.3,379.8 414.6,381.5 414.9,377.9 415.2,378.7 415.5,381.1 415.8,378.5 416.1,381.5 416.4,379.2 416.7,371.2 417,364.5 417.3,358.8 417.4,354.1 417.6,360.4 417.9,367.9 418.2,373.9 418.5,381.4 418.8,389.8 419.1,400 419.4,395.6 419.7,389.6 420,384.2 420.3,382.5 420.6,379.2 420.9,376.1 421.2,379.6 421.5,379.2 421.8,378.7 422.1,377 422.4,377.9 422.7,377.6 423,379.2 423.3,376.5 423.6,377.2 423.9,378.1 424.2,377.2 424.5,375.9 424.8,379.1 425.1,379.2 425.4,378.7 425.7,378.7 426,381.6 426.3,378.9 426.6,376.9 426.9,378.7 427.2,376.9 427.5,381.8 427.8,378.3 428.1,376.2 428.4,376.1 428.7,378.8 429,379.2 429.3,378.2 429.6,380.4 429.9,379.3 430.2,380.9 430.5,378.9 430.8,379 431.1,377.2 431.4,378.8 431.7,380.3 432,379.8 432.3,381 432.6,379.2 432.9,379.5 433.2,378.2 433.5,377.4 433.8,381 434.1,378.1 434.4,377.9 434.7,380.2 435,376.6 435.3,377.4 435.6,366 435.9,360.8 436.2,354.1 436.5,361.5 436.8,367.4 437.1,377.3 437.4,384.2 437.7,392.7 438,396.4 438.2,401.9 438.3,399.1 438.6,393.6 438.9,390.4 439.2,382.3 439.5,377.9 439.8,378.1 440.1,378 440.4,379 440.7,379.2 441,377.5 441.3,380 441.6,380.2 441.9,380 442.2,378.1 442.5,379.9 442.8,377.2 443.1,383.3 443.4,380.8 443.7,380.5 444,379.6 444.3,378.1 444.6,380 444.9,381.4 445.2,379 445.5,378.4 445.8,383.7 446.1,380 446.4,380.4 446.7,382.1 447,381.5 447.3,380.4 447.6,380.7 447.9,380.9 448.2,381.9 448.5,380.2 448.8,381.4 449.1,380.6 449.4,381.2 449.7,379.8 450,379.2 450.3,380 450.6,379.3 450.9,381.5 451.2,378.9 451.5,379.2 451.8,380.3 452.1,379.6 452.4,382.4 452.7,378.7 453,378.9 453.3,381.1 453.6,377.8 453.9,379.3 454.2,378.2 454.5,378.7 454.8,375.5 455.1,368.6 455.4,361.9 455.7,354.3 456,359.5 456.3,369.8 456.6,373 456.9,379.9 457.2,386.9 457.5,389.9 457.8,396.6 457.9,400.6 458.1,397.9 458.4,390.5 458.7,387.3 459,381.9 459.3,380.8 459.6,378.7 459.9,377.4 460.2,379.4 460.5,379.1 460.8,376.7 461.1,377.8 461.4,377 461.7,378.2 462,377.3 462.3,380.8 462.6,379.7 462.9,380.8 463.2,375.9 463.5,378.4 463.8,378.7 464.1,380 464.4,380.2 464.7,382.7 465,376.2 465.3,378.8 465.6,379.1 465.9,381.2 466.2,379.4 466.5,379 466.8,379.5 467.1,378.6 467.4,380.3 467.7,378.7 468,377.8 468.3,378.2 468.6,378.5 468.9,379.1 469.2,380.1 469.5,378.2 469.8,379.1 470.1,379.8 470.4,377.8 470.7,380.6 471,379.2 471.3,377.6 471.6,377 471.9,378.7 472.2,377.9 472.5,377.3 472.8,378.4 473.1,378.8 473.4,377.4 473.7,377.5 474,377.6 474.3,376.4 474.6,377.7 474.9,378.8 475.2,378.1 475.5,376.1 475.8,379.4 476.1,378.7 476.4,379.1 476.7,377.8 477,379.9 477.3,377.6 477.6,377.2 477.9,379 478.2,379.1 478.5,380.3 478.8,378.7 479.1,380.2 479.4,379.3 479.7,379.1 480,379.6 480.3,377.7 480.6,376.9 480.9,381.4 481.2,380.2 481.5,378.7 481.8,380.3 482.1,379.5 482.4,378.3 482.7,376.7 483,376.9 483.3,378.7 483.6,378.6 483.9,379.3 484.2,379.1 484.5,380.2 484.8,381 485.1,379.2 485.4,377.3 485.7,377.7 486,380.7 486.3,378.5 486.6,379.1 486.9,378.1 487.2,379.7 487.5,377.2 487.8,378.3 488.1,377.1 488.4,376.9 488.7,380.2 489,378.2 489.3,375.9 489.6,377.5 489.9,376.2 490.2,377.2 490.5,378.6 490.8,377.6 491.1,376.3 491.4,376 491.7,375.9 492,379.1 492.3,377 492.6,379.7 492.9,378.3 493.2,378.6 493.5,377.5 493.8,377.8 494.1,376.6 494.4,378.8 494.7,377.2 495,377.3 495.3,377.7 495.6,379.7 495.9,377.7 496.2,377.8 496.5,377.1 496.8,378.3 497.1,379.1 497.4,378.7 497.7,378.9 498,378.1 498.3,376.3 498.6,379.5 498.9,376 499.2,382.3 499.5,377.6 499.8,379.6 500.1,376.3 500.4,380 500.7,377.6 501,380.1 501.3,380.1 501.6,377.5 501.9,377.5 502.2,379.2 502.5,376 502.8,379.3 503.1,376.8 503.4,379.8 503.7,380 504,378.8 504.3,380.2 504.6,378.2 504.9,381.6" fill="none" stroke="#111" stroke-width="1.35" stroke-linejoin="round" />
<path d="M369.3,441.9 369.6,441.1 369.9,444.6 370.2,441.3 370.5,441.6 370.8,441.9 371.1,441 371.4,444.6 371.7,441.9 372,443.8 372.3,439.4 372.6,443.4 372.9,444.2 373.2,441.2 373.5,442.2 373.8,442.8 374.1,442.3 374.4,441.7 374.7,440.6 375,443.5 375.3,443.6 375.6,443.7 375.9,443.1 376.2,443.1 376.5,444.5 376.8,442.4 377.1,444.3 377.4,443.2 377.7,443.1 378,443.3 378.3,441 378.6,440.9 378.9,441.7 379.2,440.9 379.5,443.5 379.8,441.6 380.1,443.4 380.4,442.8 380.7,442.9 381,444.7 381.3,443.5 381.6,443.5 381.9,442.8 382.2,443.2 382.5,444.4 382.8,444.7 383.1,443.2 383.4,444.8 383.7,444.7 384,443.6 384.3,443.3 384.6,444.7 384.9,445.3 385.2,443 385.5,442.3 385.8,443.5 386.1,443.5 386.4,445.7 386.7,441.9 387,444.4 387.3,441.9 387.6,443.8 387.9,443.2 388.2,443.4 388.5,445.3 388.8,440.2 389.1,445.4 389.4,443.1 389.7,444.3 390,443.5 390.3,441.5 390.6,445.6 390.9,443 391.2,442.4 391.5,442.7 391.8,442.4 392.1,444 392.4,445.4 392.7,444.9 393,443.9 393.3,442.8 393.6,443.6 393.9,441.9 394.2,443.8 394.5,443.5 394.8,443.7 395.1,445.8 395.4,442.9 395.7,444.9 396,444 396.3,440.3 396.6,445 396.9,443.5 397.2,443.1 397.5,443.2 397.8,443.2 398.1,443.9 398.4,441.3 398.7,446.4 399,445 399.3,441.9 399.6,443.1 399.9,444.6 400.2,444.8 400.5,443.9 400.8,440.1 401.1,442.8 401.4,444.7 401.7,443 402,444.2 402.3,441.4 402.6,443 402.9,442 403.2,443.3 403.5,441.2 403.8,443.1 404.1,443 404.4,444.5 404.7,443.8 405,442.7 405.3,443.9 405.6,440.2 405.9,443 406.2,443.9 406.5,441.6 406.8,443.3 407.1,442 407.4,442.9 407.7,443.5 408,440.7 408.3,442.6 408.6,441.4 408.9,443.2 409.2,444.7 409.5,444.2 409.8,443 410.1,442.8 410.4,442.2 410.7,441.7 411,443.5 411.3,442.1 411.6,444.1 411.9,443.4 412.2,439.5 412.5,441.1 412.8,443.3 413.1,440.4 413.4,440.9 413.7,441.5 414,441.2 414.3,443.4 414.6,443.2 414.9,443.9 415.2,442.4 415.5,444.4 415.8,443.4 416.1,442.2 416.4,443.3 416.7,431.7 417,419.4 417.3,412.7 417.4,407.5 417.6,416.5 417.9,428.3 418.2,438.5 418.5,448.3 418.8,462 419.1,472.7 419.4,466.1 419.7,459.8 420,451.8 420.3,446.4 420.6,443.8 420.9,443 421.2,443.8 421.5,441.9 421.8,444.4 422.1,444.5 422.4,441 422.7,442 423,443.7 423.3,442.9 423.6,443.4 423.9,444.2 424.2,442.7 424.5,443.3 424.8,441.9 425.1,445.8 425.4,442.5 425.7,442.9 426,444.4 426.3,443.9 426.6,444.2 426.9,445.7 427.2,445.1 427.5,443.4 427.8,446.3 428.1,444.8 428.4,447.4 428.7,445.4 429,444.3 429.3,444.8 429.6,444.9 429.9,446.2 430.2,444.5 430.5,446.4 430.8,443.7 431.1,444.9 431.4,445.7 431.7,443.6 432,445.8 432.3,444 432.6,445.4 432.9,445.5 433.2,444.7 433.5,445.1 433.8,445.9 434.1,445.7 434.4,445 434.7,445.2 435,445.7 435.3,443 435.6,434.2 435.9,420.4 436.2,408.6 436.5,418.3 436.8,429.3 437.1,438.9 437.4,448.4 437.7,460.7 438,471.9 438.2,476.8 438.3,475.9 438.6,467.6 438.9,457.5 439.2,450.9 439.5,442.7 439.8,445.7 440.1,443.9 440.4,442.4 440.7,445.3 441,443 441.3,442.7 441.6,446.5 441.9,441.3 442.2,444.3 442.5,443.6 442.8,441.3 443.1,445.5 443.4,442.7 443.7,443.8 444,443.2 444.3,444 444.6,441.1 444.9,444.6 445.2,442.8 445.5,442.6 445.8,443.4 446.1,443.7 446.4,443.8 446.7,442.3 447,442.8 447.3,443.3 447.6,444.5 447.9,443 448.2,442.6 448.5,443.4 448.8,441.9 449.1,445.7 449.4,440.3 449.7,443.6 450,444.7 450.3,445.6 450.6,442.2 450.9,442.7 451.2,443.6 451.5,443.6 451.8,443.4 452.1,444.3 452.4,441.9 452.7,442.4 453,443.3 453.3,445.2 453.6,441.5 453.9,444.1 454.2,444.6 454.5,441.7 454.8,439.3 455.1,431.8 455.4,420.7 455.7,408.1 456,419 456.3,426.6 456.6,432.5 456.9,441.3 457.2,454.1 457.5,462.1 457.8,470.9 457.9,474.8 458.1,471.9 458.4,461.7 458.7,455.8 459,447.9 459.3,442.8 459.6,444.8 459.9,441.6 460.2,443.5 460.5,443.5 460.8,444.4 461.1,442.9 461.4,442.5 461.7,444.5 462,443 462.3,444.5 462.6,445.4 462.9,444.1 463.2,442.9 463.5,442.8 463.8,442.1 464.1,444.2 464.4,443.7 464.7,443.1 465,442.6 465.3,443.7 465.6,444.9 465.9,445.6 466.2,442.5 466.5,442.5 466.8,444.8 467.1,442.1 467.4,444 467.7,443.4 468,442.4 468.3,444.5 468.6,444.8 468.9,445.9 469.2,443.4 469.5,443.3 469.8,442.9 470.1,443.2 470.4,444.1 470.7,442.8 471,445.7 471.3,443.9 471.6,443.4 471.9,444.2 472.2,442.5 472.5,443.9 472.8,442.9 473.1,443.5 473.4,444.8 473.7,441.9 474,443.1 474.3,444.7 474.6,444.7 474.9,446.1 475.2,445.2 475.5,445.1 475.8,444.6 476.1,445.3 476.4,444 476.7,444.8 477,446.5 477.3,445.1 477.6,445.6 477.9,445.9 478.2,444.4 478.5,442.7 478.8,445.4 479.1,446.9 479.4,444.4 479.7,440.3 480,444.8 480.3,444 480.6,444.8 480.9,443.3 481.2,442.4 481.5,444.2 481.8,442.5 482.1,445.3 482.4,443.7 482.7,445.5 483,443.8 483.3,444.4 483.6,443.4 483.9,445.2 484.2,443.6 484.5,443.9 484.8,444.7 485.1,445 485.4,445.6 485.7,444.6 486,443.8 486.3,444.2 486.6,443.7 486.9,442.6 487.2,444.4 487.5,443.7 487.8,443 488.1,443.2 488.4,443.2 488.7,443.5 489,441.2 489.3,443.6 489.6,444 489.9,442.7 490.2,441.1 490.5,441.6 490.8,443.5 491.1,442.5 491.4,443.1 491.7,443.4 492,442.6 492.3,442.5 492.6,443 492.9,441.2 493.2,443.8 493.5,441.5 493.8,440.6 494.1,440.7 494.4,443.1 494.7,443.7 495,445.6 495.3,443.3 495.6,440.4 495.9,445.3 496.2,445.5 496.5,442.5 496.8,442.6 497.1,445.7 497.4,443.6 497.7,443.1 498,445.2 498.3,442.3 498.6,444.9 498.9,441.5 499.2,443 499.5,444.1 499.8,445.2 500.1,443.6 500.4,443.1 500.7,442.9 501,443.4 501.3,442.7 501.6,441.2 501.9,443.4 502.2,442.2 502.5,441.4 502.8,441.9 503.1,440.6 503.4,440.1 503.7,442.6 504,441.9 504.3,445.9 504.6,442.5 504.9,441.1" fill="none" stroke="#111" stroke-width="1.35" stroke-linejoin="round" />
<text x="372" y="299" font-size="11.2" fill="#231815">TEMP-<tspan font-size="7" dy="-5.5">1</tspan><tspan dy="5.5">O</tspan><tspan font-size="7" dy="4.6">2</tspan></text>
<text x="500.4" y="306.7" font-size="10" text-anchor="end" font-weight="normal" fill="#231815" >0 min</text>
<text x="500.4" y="329.7" font-size="10" text-anchor="end" font-weight="normal" fill="#231815" >1 min</text>
<text x="500.4" y="372.4" font-size="10" text-anchor="end" font-weight="normal" fill="#231815" >2 min</text>
<text x="500.4" y="435.8" font-size="10" text-anchor="end" font-weight="normal" fill="#231815" >5 min</text>
<text x="440.3" y="278.1" font-size="17" text-anchor="middle" font-weight="normal" fill="#231815" >air</text>
<text x="349.8" y="292.4" font-size="22" text-anchor="start" font-weight="bold" fill="#231815" >f</text>
<text x="353.8" y="394.2" font-size="11.6" text-anchor="middle" font-weight="normal" fill="#231815" transform="rotate(-90 353.8 394.2)">Intensity (a.u.)</text>
<rect x="536.8" y="285.2" width="137.5" height="68.1" fill="#fcefed"/>
<rect x="536.8" y="353.3" width="137.5" height="67.9" fill="#e8f1e0"/>
<rect x="536.8" y="421.2" width="137.5" height="68.1" fill="#dce6ef"/>
<path d="M536.8,489.3v2.2M554,489.3v1.5M571.2,489.3v2.2M588.4,489.3v1.5M605.5,489.3v2.2M622.7,489.3v1.5M639.9,489.3v2.2M657.1,489.3v1.5M674.3,489.3v2.2" stroke="#555" stroke-width="0.9" fill="none"/>
<path d="M536.8,489.3V285.2H674.3V489.3" stroke="#8c8c8c" stroke-width="1" fill="none"/>
<path d="M536.3,489.3H674.8" stroke="#555" stroke-width="1" fill="none"/>
<text x="536.8" y="502" font-size="10.4" text-anchor="middle" font-weight="normal" fill="#231815" textLength="21.6" lengthAdjust="spacingAndGlyphs" >3420</text>
<text x="571.2" y="502" font-size="10.4" text-anchor="middle" font-weight="normal" fill="#231815" textLength="21.6" lengthAdjust="spacingAndGlyphs" >3450</text>
<text x="605.5" y="502" font-size="10.4" text-anchor="middle" font-weight="normal" fill="#231815" textLength="21.6" lengthAdjust="spacingAndGlyphs" >3480</text>
<text x="639.9" y="502" font-size="10.4" text-anchor="middle" font-weight="normal" fill="#231815" textLength="21.6" lengthAdjust="spacingAndGlyphs" >3510</text>
<text x="674.3" y="502" font-size="10.4" text-anchor="middle" font-weight="normal" fill="#231815" textLength="21.6" lengthAdjust="spacingAndGlyphs" >3540</text>
<text x="548" y="516.9" font-size="11.3" fill="#231815">Magnetic Field (*10<tspan font-size="7" dy="-4.5">-4</tspan><tspan dy="4.5"> T)</tspan></text>
<path d="M537.4,319.3 537.8,319.8 538.1,321.1 538.5,321.3 538.8,320.7 539.1,321.1 539.5,320.7 539.9,320.4 540.2,320.9 540.5,320.4 540.9,321.5 541.2,321.7 541.6,322 542,322.2 542.3,321.5 542.6,321.1 543,321.5 543.4,321.4 543.7,320.1 544,322 544.4,321.5 544.8,321.7 545.1,321.7 545.5,320.6 545.8,321.3 546.1,320.6 546.5,321.9 546.9,320.2 547.2,319.9 547.5,321.7 547.9,321.1 548.2,321.2 548.6,320.5 549,321.1 549.3,320.3 549.6,320 550,320.8 550.4,321.8 550.7,321 551,320.6 551.4,320.1 551.8,320.9 552.1,321.1 552.5,320.1 552.8,320.3 553.1,320 553.5,320.4 553.9,319.7 554.2,319.7 554.5,321.2 554.9,319.9 555.2,319.9 555.6,320.1 556,319.3 556.3,320.5 556.6,320 557,321 557.4,320.4 557.7,320.9 558,321.2 558.4,321.3 558.8,320.2 559.1,319.7 559.5,320.3 559.8,320.9 560.1,320.6 560.5,319.6 560.9,320.9 561.2,319.5 561.5,321.1 561.9,318.2 562.2,316 562.4,316.1 562.6,317.4 563,320.1 563.3,323.1 563.6,324.2 563.6,324.2 564,322.7 564.4,321.3 564.7,319.8 565,320.1 565.4,319.5 565.8,321.5 566.1,319.6 566.5,320.7 566.8,320.6 567.1,320.5 567.5,320.2 567.9,319.7 568.2,319.9 568.5,321 568.9,320.2 569.2,320.3 569.6,320.3 570,320.7 570.3,321.1 570.6,320.3 571,321.6 571.4,319.6 571.7,320.9 572,321 572.4,319.7 572.8,319.6 573.1,319.6 573.5,319.4 573.8,320 574.1,320.1 574.5,320 574.9,320.2 575.2,320.1 575.5,318.8 575.9,319.3 576.2,320.4 576.6,320.5 577,320.8 577.3,321.4 577.6,320.7 578,320.8 578.4,320.3 578.7,320.9 579,321.3 579.4,319.8 579.8,319.2 580.1,321.6 580.5,315.5 580.8,308.4 581,305.5 581.1,309.6 581.5,316.3 581.9,323.8 582.2,331.7 582.5,337.3 582.5,336.3 582.9,330.7 583.2,325.3 583.6,321.2 584,320.2 584.3,320.7 584.6,320 585,320 585.4,320.9 585.7,320.4 586,319.8 586.4,320.2 586.8,320.9 587.1,318.7 587.5,316.3 587.6,315.3 587.8,316.4 588.1,319.9 588.5,322 588.8,325.1 588.9,324.8 589.2,323.8 589.5,321.4 589.9,320.1 590.2,319.6 590.6,320.6 591,320.2 591.3,321.1 591.6,319.8 592,319.7 592.4,321.5 592.7,322.1 593,320.8 593.4,321.1 593.8,320.6 594.1,320.9 594.5,320.6 594.8,319.5 595.1,321.3 595.5,321.3 595.9,321 596.2,322.5 596.5,320.7 596.9,321.4 597.2,321.6 597.6,312.3 598,300.6 598.1,296.1 598.3,302 598.6,314 599,325.7 599.4,336.2 599.6,345.2 599.7,341.1 600,334.9 600.4,324 600.8,319.5 601.1,320 601.5,320.2 601.8,320.4 602.1,320.4 602.5,320.9 602.9,318.9 603.2,319.7 603.5,320 603.9,320.2 604.2,321.6 604.6,320.8 605,320.5 605.3,319.8 605.6,319.7 606,316.6 606.2,315.6 606.4,316.9 606.7,320.2 607,322.3 607.4,325.4 607.8,324.7 608.1,320.8 608.5,318.7 608.8,320.5 609.1,319.6 609.5,320.5 609.9,320.1 610.2,318.7 610.5,319.9 610.9,319.2 611.2,319.7 611.6,319.2 612,319.9 612.3,318.7 612.6,318.5 613,319.3 613.4,320.4 613.7,320.3 614,320.6 614.4,317.8 614.8,310.4 615.1,303.6 615.5,312.3 615.8,323.2 616.1,331.7 616.5,341.9 616.7,347.7 616.9,344.4 617.2,334.8 617.5,325.5 617.9,320.2 618.2,321.2 618.6,320 619,320.4 619.3,320.2 619.6,321.4 620,321 620.4,320.5 620.7,320.2 621,321.5 621.4,320.4 621.8,320.8 622.1,320 622.5,320.7 622.8,320.6 623.1,320.4 623.5,319.9 623.9,320.7 624.2,319.5 624.5,320.4 624.9,317.9 625.2,317.1 625.3,316.4 625.6,319 626,321.2 626.3,322.8 626.5,324.7 626.6,324.5 627,322.3 627.4,320.3 627.7,319.8 628,320.5 628.4,319.3 628.8,320.1 629.1,319.4 629.5,320.3 629.8,319.8 630.1,319.4 630.5,320.7 630.9,320.2 631.2,319.5 631.5,313.3 631.9,307.1 632,306.1 632.2,311.3 632.6,317 633,324.5 633.3,330.2 633.5,334.8 633.6,330.5 634,325.4 634.4,321.3 634.7,320 635,319.5 635.4,318.7 635.8,318.8 636.1,319.4 636.5,318.5 636.8,318.7 637.1,318.8 637.5,319.3 637.9,319 638.2,319.2 638.5,318.6 638.9,319.4 639.2,318.5 639.6,319.3 640,319.2 640.3,319.2 640.6,319.6 641,320.5 641.4,318.7 641.7,319.3 642,319.9 642.4,320 642.8,319.7 643.1,319.8 643.5,319.5 643.8,320 644.1,319.7 644.5,319.5 644.9,320.4 645.2,318.6 645.5,320.3 645.9,320.1 646.2,320.1 646.6,320.1 647,319.7 647.3,319.3 647.6,319.9 648,320.3 648.4,319.5 648.7,320.9 649,319.4 649.4,319.4 649.8,319.2 650.1,320.2 650.5,319.8 650.8,319.8 651.1,318.3 651.5,317.2 651.9,318.6 652.2,320.8 652.5,321.3 652.7,323.3 652.9,323.6 653.2,321.8 653.6,320 654,319.6 654.3,319.6 654.6,319.6 655,320.3 655.4,320.1 655.7,320.7 656,320.6 656.4,320.6 656.8,320.3 657.1,320.2 657.5,320 657.8,320.2 658.1,319.4 658.5,320.2 658.9,319.1 659.2,319.2 659.5,320.6 659.9,319.5 660.2,321 660.6,319.3 661,320.2 661.3,320.8 661.6,321.6 662,320.3 662.4,320.7 662.7,318.9 663,320.4 663.4,319.8 663.8,319.3 664.1,319.5 664.5,319.5 664.8,319.8 665.1,319.1 665.5,320.1 665.9,319.2 666.2,320.2 666.5,319.8 666.9,320.3 667.2,319.7 667.6,319.2 668,318.9 668.3,321 668.6,320.3 669,320.5 669.4,319.2 669.7,320.2 670,319.3 670.4,320 670.8,320.9 671.1,319.9 671.5,321 671.8,319.8 672.1,319.6 672.5,319.6 672.9,320.9 673.2,319.4 673.5,319.7" fill="none" stroke="#222" stroke-width="0.85" stroke-linejoin="round" />
<path d="M537.4,387.4 537.8,388 538.1,388.1 538.5,386.4 538.8,386.6 539.1,386.6 539.5,387.2 539.9,386.6 540.2,386.2 540.5,386.8 540.9,388.2 541.2,388.3 541.6,387.9 542,386.6 542.3,387.8 542.6,387.5 543,386.9 543.4,387.5 543.7,387.9 544,386.3 544.4,386.5 544.8,386.3 545.1,386.3 545.5,386 545.8,387.2 546.1,387.3 546.5,388.3 546.9,387.3 547.2,387.3 547.5,386.3 547.9,386.4 548.2,385.8 548.6,385.8 549,385.8 549.3,386.3 549.6,386.6 550,387.1 550.4,387.2 550.7,387.8 551,386.9 551.4,387.4 551.8,388.8 552.1,389.6 552.5,388 552.8,387.6 553.1,387.5 553.5,386.3 553.9,387.7 554.2,387.9 554.5,386.6 554.9,386 555.2,385.7 555.6,387.5 556,387.2 556.3,387.4 556.6,385.8 557,386.3 557.4,387.1 557.7,386.4 558,387 558.4,387.2 558.8,387.1 559.1,387 559.5,386.8 559.8,386.3 560.1,386.3 560.5,385.1 560.9,385.7 561.2,386.4 561.5,388.1 561.9,387.4 562.2,386.7 562.6,386.1 563,387 563.3,386.1 563.6,386.3 564,386.8 564.4,386.3 564.7,386.4 565,387 565.4,387.4 565.8,386.8 566.1,386.3 566.5,387.3 566.8,388.2 567.1,387.4 567.5,386 567.9,387.7 568.2,385.8 568.5,386.9 568.9,386.4 569.2,387 569.6,385.8 570,386.2 570.3,386 570.6,387.8 571,386 571.4,388 571.7,386.9 572,386.5 572.4,386.9 572.8,386.3 573.1,386.3 573.5,385.4 573.8,384.9 574.1,383.3 574.2,383.9 574.5,385.6 574.9,386.8 575.2,387.2 575.5,388.8 575.8,389.1 575.9,388.6 576.2,388.3 576.6,386.9 577,387 577.3,388.2 577.6,387.8 578,386.9 578.4,385.9 578.7,387.6 579,388 579.4,386.4 579.8,386.8 580.1,385.5 580.5,384.3 580.7,384.5 580.8,385.3 581.1,386.7 581.5,387.4 581.9,387.7 582.2,389.5 582.3,389.1 582.5,390 582.9,387.9 583.2,387 583.6,386.6 584,387.5 584.3,386.4 584.6,387.1 585,385.2 585.4,386.2 585.7,386.2 586,386 586.4,384.9 586.8,384.1 587.1,383 587.2,384 587.5,383.4 587.8,385.8 588.1,386 588.5,387.7 588.8,388.8 588.9,388.7 589.2,388.7 589.5,388.1 589.9,386.9 590.2,385.6 590.6,387 591,386.6 591.3,386.1 591.6,387.3 592,386.7 592.4,386.9 592.7,387 593,385.5 593.4,384.2 593.7,384 593.8,385.1 594.1,383.9 594.5,387.1 594.8,388.8 595.1,390 595.3,389.6 595.5,388.8 595.9,390.5 596.2,387.6 596.5,387.8 596.9,387 597.2,386.9 597.6,387.7 598,387.7 598.3,385.9 598.6,387.4 599,386.9 599.4,386.2 599.7,385 600,384.2 600.2,384.1 600.4,385.1 600.8,386.2 601.1,388.7 601.5,387.9 601.8,389.4 602.1,389.6 602.5,388.7 602.9,388.3 603.2,387.3 603.5,386.8 603.9,386.5 604.2,387.7 604.6,388.1 605,388.1 605.3,388.7 605.6,388.1 606,385.5 606.4,386.3 606.7,384.6 607,385.8 607.4,387 607.8,387.8 608.1,389.9 608.3,389.5 608.5,388.1 608.8,389 609.1,387.8 609.5,386.8 609.9,388.1 610.2,386.9 610.5,387.5 610.9,386.4 611.2,386.8 611.6,388.2 612,386.1 612.3,387.8 612.6,385.5 613,384.8 613.2,384.1 613.4,384.4 613.7,384.7 614,387 614.4,388.1 614.8,388.1 614.8,388.9 615.1,388 615.5,387.5 615.8,387.2 616.1,386.9 616.5,387.2 616.9,385.9 617.2,385.6 617.5,385.4 617.9,387.4 618.2,387.3 618.6,386.6 619,386.1 619.3,386 619.6,383.1 619.7,383.9 620,385.6 620.4,386.9 620.7,387.6 621,389.4 621.3,389.3 621.4,388.8 621.8,387.4 622.1,387.2 622.5,386.1 622.8,387.7 623.1,389.3 623.5,386.2 623.9,387 624.2,387.1 624.5,385.6 624.9,387.6 625.2,387.1 625.6,386.3 626,383.8 626.2,383.9 626.3,385.9 626.6,384.5 627,386.7 627.4,387.1 627.7,389 627.8,388.7 628,387.9 628.4,386.9 628.8,388 629.1,386 629.5,386.5 629.8,386.9 630.1,387.4 630.5,387.2 630.9,387.3 631.2,386.9 631.5,386.2 631.9,385 632.2,385.8 632.6,384.9 632.7,384.2 633,385.9 633.3,385.9 633.6,387.3 634,388.3 634.3,389 634.4,388 634.7,387.8 635,387.6 635.4,386.7 635.8,387.3 636.1,387.4 636.5,385.9 636.8,385.8 637.1,384.6 637.5,386 637.9,386.3 638.2,384.7 638.5,384.7 638.9,384.5 639.2,383.5 639.2,381.9 639.6,384 640,386 640.3,386.3 640.6,387.6 640.8,389.1 641,387.4 641.4,386.8 641.7,385.3 642,386.2 642.4,386.1 642.8,385.8 643.1,386.8 643.5,383.9 643.8,387.5 644.1,386.8 644.5,386.5 644.9,387.5 645.2,386.4 645.5,387 645.9,386.6 646.2,386.6 646.6,386.8 647,386.6 647.3,386.6 647.6,386.1 648,386 648.4,386.7 648.7,386.9 649,386.8 649.4,386.2 649.8,386.7 650.1,386.8 650.5,387.8 650.8,385.3 651.1,387.5 651.5,385.6 651.9,386.6 652.2,386.2 652.5,386.5 652.9,386.6 653.2,386.6 653.6,386.2 654,386.1 654.3,385.8 654.6,387.6 655,386.7 655.4,385.9 655.7,386.2 656,388.2 656.4,387.4 656.8,387.3 657.1,387.3 657.5,389.1 657.8,387.1 658.1,389.1 658.5,385.9 658.9,387.1 659.2,387.6 659.5,386.9 659.9,387.1 660.2,387.4 660.6,387 661,387.1 661.3,387.9 661.6,386.8 662,386.7 662.4,386.8 662.7,386.5 663,386.2 663.4,386.7 663.8,386.4 664.1,387.3 664.5,386.7 664.8,386.1 665.1,385.7 665.5,387.4 665.9,388.2 666.2,385.5 666.5,386.1 666.9,385.3 667.2,386.1 667.6,386.5 668,387.1 668.3,387.1 668.6,385.6 669,386 669.4,386.4 669.7,387.2 670,386.6 670.4,386.7 670.8,386.3 671.1,388.3 671.5,385.7 671.8,385 672.1,386.4 672.5,385.8 672.9,385.6 673.2,386.7 673.5,385.5" fill="none" stroke="#222" stroke-width="0.85" stroke-linejoin="round" />
<path d="M537.4,454.1 537.8,454.2 538.1,453.9 538.5,454.6 538.8,454.5 539.1,454.9 539.5,454.2 539.9,454.3 540.2,453.8 540.5,454.1 540.9,454.9 541.2,454.3 541.6,453.9 542,454.6 542.3,455.1 542.6,453.4 543,454.3 543.4,454.4 543.7,453.7 544,455.3 544.4,454.7 544.8,455.9 545.1,454.8 545.5,455 545.8,455.6 546.1,455.5 546.5,455 546.9,454.9 547.2,454 547.5,454.9 547.9,455.1 548.2,455.4 548.6,456.2 549,455.5 549.3,455.7 549.6,454.9 550,456.1 550.4,455.5 550.7,455 551,456.1 551.4,455.9 551.8,454.7 552.1,455.8 552.5,455.3 552.8,455.3 553.1,456 553.5,456.3 553.9,454.6 554.2,455.7 554.5,455 554.9,455.8 555.2,455.2 555.6,456 556,456.2 556.3,456.2 556.6,455.7 557,455.7 557.4,455.7 557.7,455.5 558,456 558.4,455.2 558.8,456 559.1,455.2 559.5,454.9 559.8,454.7 560.1,456.7 560.5,454.6 560.9,456.3 561.2,454.4 561.5,455.2 561.9,455 562.2,455.8 562.6,454.9 563,455 563.3,455.6 563.6,455.6 564,454.8 564.4,454.7 564.7,454.7 565,455.2 565.4,455.1 565.8,454.5 566.1,454.4 566.5,454.2 566.8,454.9 567.1,455.3 567.5,454.8 567.9,454.6 568.2,455 568.5,454.6 568.9,455.1 569.2,454.7 569.6,455.2 570,454 570.3,454.3 570.6,454.8 571,455.4 571.4,455.2 571.7,454.2 572,454.6 572.4,454.4 572.8,455.6 573.1,455.6 573.5,454.8 573.8,454.8 574.1,455.3 574.5,455.1 574.9,454.4 575.2,455 575.5,454.3 575.9,453.7 576.2,454.4 576.6,454.7 577,455.2 577.3,454 577.6,455.2 578,455.2 578.4,454.7 578.7,455.3 579,454 579.4,455 579.8,454.6 580.1,455 580.5,455 580.8,455 581.1,456.1 581.5,455.6 581.9,455.2 582.2,453.8 582.5,454.6 582.9,454.7 583.2,455.5 583.6,454.7 584,454.5 584.3,454.7 584.6,453.5 585,454.1 585.4,452.6 585.5,451.5 585.7,453.3 586,454.7 586.4,456.2 586.8,457.8 587,459 587.1,458.6 587.5,457.1 587.8,456.5 588.1,455.4 588.5,454.3 588.9,455.2 589.2,455.4 589.5,454.8 589.9,455.1 590.2,455 590.6,455.2 591,454.8 591.3,454.7 591.6,455.4 592,455.5 592.4,454.4 592.7,455.5 593,456 593.4,456.2 593.8,455.3 594.1,455.6 594.5,456 594.8,455.6 595.1,455.7 595.5,454.7 595.9,455.1 596.2,455.3 596.5,456 596.9,455.4 597.2,454.9 597.6,455 598,454.7 598.3,455.1 598.6,454.7 599,454.7 599.4,455.2 599.7,454.3 600,455 600.4,454.9 600.8,456 601.1,455.7 601.5,455.2 601.8,455.6 602.1,454.9 602.5,454.9 602.9,454.4 603.2,454.7 603.5,455.6 603.9,454.8 604.2,454.3 604.6,452.9 604.9,451 605,451.3 605.3,452.7 605.6,453.7 606,456.7 606.4,458.1 606.4,459.1 606.7,458.1 607,457.3 607.4,455.9 607.8,454.1 608.1,454.4 608.5,454.2 608.8,455 609.1,453.9 609.5,454.8 609.9,454.9 610.2,454.6 610.5,454.3 610.9,454.2 611.2,453.8 611.6,455.1 612,454.8 612.3,453.5 612.6,453.2 613,454.8 613.4,454.5 613.7,455.3 614,454.8 614.4,454.8 614.8,454.3 615.1,454.9 615.5,453.9 615.8,454.6 616.1,454.8 616.5,454.3 616.9,455 617.2,455.4 617.5,454.8 617.9,453.5 618.2,454.6 618.6,454.5 619,454.8 619.3,455 619.6,454.6 620,456.2 620.4,455.5 620.7,455.2 621,455.3 621.4,454.5 621.8,454.2 622.1,455.1 622.5,455.2 622.8,455.4 623.1,454.9 623.5,454.5 623.9,452.8 624.1,450.7 624.2,451.5 624.5,454.7 624.9,455.4 625.2,458.5 625.6,459.1 626,458.2 626.3,458.6 626.6,455.9 627,455.6 627.4,456.2 627.7,455.3 628,454.8 628.4,455.6 628.8,456.4 629.1,456.4 629.5,456.2 629.8,456 630.1,454.8 630.5,455.4 630.9,455.4 631.2,454.9 631.5,455.3 631.9,455.2 632.2,455.5 632.6,455.4 633,455.2 633.3,455.6 633.6,454.4 634,455.2 634.4,455.4 634.7,454.5 635,455.4 635.4,454.5 635.8,455 636.1,454.1 636.5,455.5 636.8,455.4 637.1,455.7 637.5,455.7 637.9,454.9 638.2,455.6 638.5,455 638.9,455.5 639.2,454.5 639.6,456.5 640,454.7 640.3,454.8 640.6,455 641,455.3 641.4,454.1 641.7,455.1 642,454.8 642.4,455 642.8,455 643.1,454.9 643.5,454.8 643.8,455.8 644.1,455.5 644.5,455.8 644.9,454.8 645.2,455.3 645.5,455.3 645.9,454.4 646.2,455 646.6,454.8 647,454.8 647.3,454.4 647.6,454.6 648,455.2 648.4,454.6 648.7,454.8 649,454.9 649.4,454.5 649.8,455 650.1,455.5 650.5,454.7 650.8,454.3 651.1,455.3 651.5,454.6 651.9,454.8 652.2,455.2 652.5,455.2 652.9,455.1 653.2,455.1 653.6,455.1 654,454.8 654.3,455.3 654.6,454.5 655,455.4 655.4,455.3 655.7,454.5 656,454.7 656.4,454.2 656.8,454.9 657.1,455.2 657.5,454.6 657.8,455.1 658.1,454.9 658.5,455.2 658.9,454.5 659.2,455.6 659.5,454.1 659.9,455.4 660.2,453.9 660.6,455.1 661,454 661.3,453.2 661.6,454.5 662,455.2 662.4,453.6 662.7,455 663,455.3 663.4,454.3 663.8,456.3 664.1,455.7 664.5,455.9 664.8,455.5 665.1,456.4 665.5,455 665.9,454.9 666.2,455.4 666.5,455.7 666.9,456.6 667.2,455.7 667.6,456.2 668,455.5 668.3,455.3 668.6,455.7 669,456.9 669.4,456.3 669.7,455.3 670,455.9 670.4,455.1 670.8,456.9 671.1,456.1 671.5,455.9 671.8,456.9 672.1,456.3 672.5,455.3 672.9,455.5 673.2,455.8 673.5,455.2" fill="none" stroke="#222" stroke-width="0.85" stroke-linejoin="round" />
<circle cx="542" cy="289.9" r="2.9" fill="#d64c9d"/>
<circle cx="581" cy="301.5" r="2.9" fill="#d64c9d"/>
<circle cx="598.1" cy="292.7" r="2.9" fill="#d64c9d"/>
<circle cx="614.9" cy="299.7" r="2.9" fill="#d64c9d"/>
<circle cx="632" cy="303" r="2.9" fill="#d64c9d"/>
<polygon points="628.1,286.8 629.01,289.24 631.62,289.36 629.58,290.98 630.27,293.49 628.1,292.05 625.93,293.49 626.62,290.98 624.58,289.36 627.19,289.24" fill="#2d4fae"/>
<polygon points="562.4,310.7 563.31,313.14 565.92,313.26 563.88,314.88 564.57,317.39 562.4,315.95 560.23,317.39 560.92,314.88 558.88,313.26 561.49,313.14" fill="#2d4fae"/>
<polygon points="588.2,309.1 589.11,311.54 591.72,311.66 589.68,313.28 590.37,315.79 588.2,314.35 586.03,315.79 586.72,313.28 584.68,311.66 587.29,311.54" fill="#2d4fae"/>
<polygon points="606.8,307 607.71,309.44 610.32,309.56 608.28,311.18 608.97,313.69 606.8,312.25 604.63,313.69 605.32,311.18 603.28,309.56 605.89,309.44" fill="#2d4fae"/>
<polygon points="625.4,309.8 626.31,312.24 628.92,312.36 626.88,313.98 627.57,316.49 625.4,315.05 623.23,316.49 623.92,313.98 621.88,312.36 624.49,312.24" fill="#2d4fae"/>
<polygon points="651.7,308.7 652.61,311.14 655.22,311.26 653.18,312.88 653.87,315.39 651.7,313.95 649.53,315.39 650.22,312.88 648.18,311.26 650.79,311.14" fill="#2d4fae"/>
<text x="546.8" y="293.6" font-size="9" text-anchor="start" font-weight="normal" fill="#231815" >DMPO-·OH</text>
<text x="633.3" y="293.6" font-size="9" text-anchor="start" font-weight="normal" fill="#231815" >DMPO-·H</text>
<text x="672.8" y="366.9" font-size="9" text-anchor="end" fill="#231815">DMPO/DMSO-·O<tspan font-size="6" dy="3.3">2</tspan><tspan font-size="6" dy="-8">-</tspan></text>
<text x="672.8" y="435.2" font-size="9" text-anchor="end" fill="#231815">TEMP-<tspan font-size="6" dy="-4">1</tspan><tspan dy="4">O</tspan><tspan font-size="6" dy="3.3">2</tspan></text>
<text x="607.5" y="278.1" font-size="17" text-anchor="middle" font-weight="normal" fill="#231815" >Ar</text>
<text x="516" y="288.3" font-size="22" text-anchor="start" font-weight="bold" fill="#231815" >g</text>
<text x="522.3" y="394.7" font-size="11.6" text-anchor="middle" font-weight="normal" fill="#231815" transform="rotate(-90 522.3 394.7)">Intensity (a.u.)</text>
</svg>
</body></html>
